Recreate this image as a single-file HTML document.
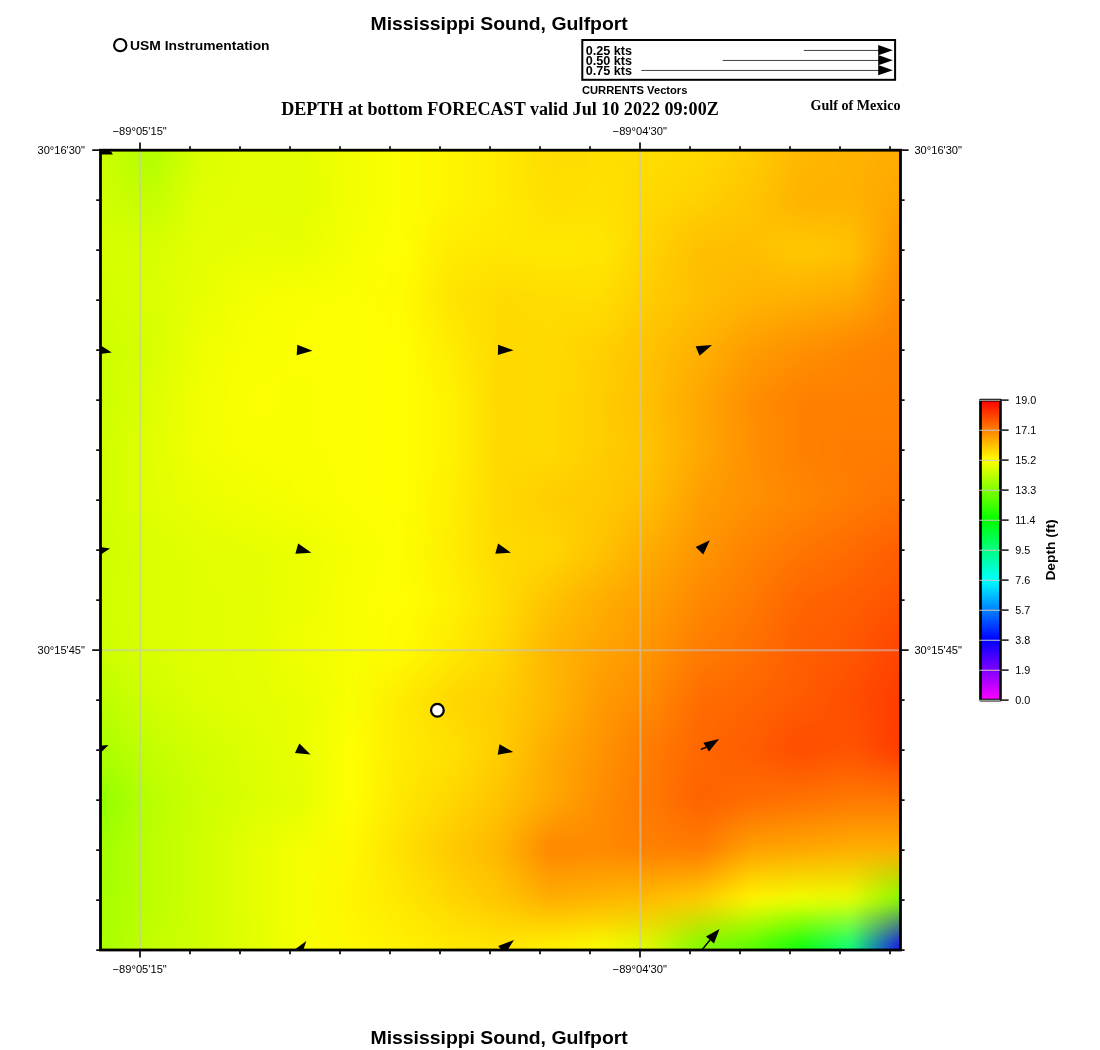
<!DOCTYPE html>
<html><head><meta charset="utf-8"><title>Mississippi Sound, Gulfport</title>
<style>
html,body{margin:0;padding:0;background:#fff;}
body{width:1100px;height:1050px;overflow:hidden;position:relative;font-family:"Liberation Sans",sans-serif;}
svg{position:absolute;left:0;top:0;}
text{font-family:"Liberation Sans",sans-serif;fill:#000;}
svg{opacity:0.9999;}
.b{font-weight:bold;}
.s{font-family:"Liberation Serif",serif;font-weight:bold;}
.n{font-weight:normal;}
</style></head><body>
<svg width="1100" height="1050" viewBox="0 0 1100 1050">
<defs>
<clipPath id="mc"><rect x="100.5" y="150.2" width="800" height="799.8"/></clipPath>
<filter id="bl" filterUnits="userSpaceOnUse" x="40" y="90" width="920" height="920" color-interpolation-filters="sRGB"><feGaussianBlur stdDeviation="5"/></filter>
<linearGradient id="cb" x1="0" y1="1" x2="0" y2="0">

<stop offset="0" stop-color="#ff00ff"/>
<stop offset="0.1" stop-color="#8000ff"/>
<stop offset="0.2" stop-color="#0000ff"/>
<stop offset="0.3" stop-color="#0080ff"/>
<stop offset="0.4" stop-color="#00ffff"/>
<stop offset="0.5" stop-color="#00ff80"/>
<stop offset="0.6" stop-color="#00ff00"/>
<stop offset="0.7" stop-color="#7fff00"/>
<stop offset="0.8" stop-color="#ffff00"/>
<stop offset="0.9" stop-color="#ff8000"/>
<stop offset="1" stop-color="#ff0000"/>
</linearGradient>
</defs>
<rect x="0" y="0" width="1100" height="1050" fill="#fff"/>
<g clip-path="url(#mc)"><g filter="url(#bl)">
<defs><linearGradient id="r0" gradientUnits="userSpaceOnUse" x1="100.5" y1="0" x2="900.5" y2="0"><stop offset="0" stop-color="#cdff00"/><stop offset="0.0625" stop-color="#b0ff00"/><stop offset="0.125" stop-color="#dbff00"/><stop offset="0.1875" stop-color="#e4ff00"/><stop offset="0.25" stop-color="#e4ff00"/><stop offset="0.3125" stop-color="#f2ff00"/><stop offset="0.375" stop-color="#fcff00"/><stop offset="0.4375" stop-color="#fff500"/><stop offset="0.5" stop-color="#ffeb00"/><stop offset="0.5625" stop-color="#ffdc00"/><stop offset="0.625" stop-color="#ffde00"/><stop offset="0.6875" stop-color="#ffdd00"/><stop offset="0.75" stop-color="#ffd900"/><stop offset="0.8125" stop-color="#ffcc00"/><stop offset="0.875" stop-color="#ffb800"/><stop offset="0.9375" stop-color="#ffb200"/><stop offset="1" stop-color="#ffad00"/></linearGradient>
<linearGradient id="r4" gradientUnits="userSpaceOnUse" x1="100.5" y1="0" x2="900.5" y2="0"><stop offset="0" stop-color="#ceff00"/><stop offset="0.0625" stop-color="#b5ff00"/><stop offset="0.125" stop-color="#dcff00"/><stop offset="0.1875" stop-color="#e4ff00"/><stop offset="0.25" stop-color="#e4ff00"/><stop offset="0.3125" stop-color="#f2ff00"/><stop offset="0.375" stop-color="#fcff00"/><stop offset="0.4375" stop-color="#fff500"/><stop offset="0.5" stop-color="#ffeb00"/><stop offset="0.5625" stop-color="#ffdc00"/><stop offset="0.625" stop-color="#ffde00"/><stop offset="0.6875" stop-color="#ffdc00"/><stop offset="0.75" stop-color="#ffd700"/><stop offset="0.8125" stop-color="#ffca00"/><stop offset="0.875" stop-color="#ffb700"/><stop offset="0.9375" stop-color="#ffb200"/><stop offset="1" stop-color="#ffab00"/></linearGradient>
<linearGradient id="r5" gradientUnits="userSpaceOnUse" x1="100.5" y1="0" x2="900.5" y2="0"><stop offset="0" stop-color="#ceff00"/><stop offset="0.0625" stop-color="#b9ff00"/><stop offset="0.125" stop-color="#ddff00"/><stop offset="0.1875" stop-color="#e4ff00"/><stop offset="0.25" stop-color="#e3ff00"/><stop offset="0.3125" stop-color="#f2ff00"/><stop offset="0.375" stop-color="#fcff00"/><stop offset="0.4375" stop-color="#fff500"/><stop offset="0.5" stop-color="#ffeb00"/><stop offset="0.5625" stop-color="#ffdd00"/><stop offset="0.625" stop-color="#ffdf00"/><stop offset="0.6875" stop-color="#ffdb00"/><stop offset="0.75" stop-color="#ffd500"/><stop offset="0.8125" stop-color="#ffc900"/><stop offset="0.875" stop-color="#ffb500"/><stop offset="0.9375" stop-color="#ffb200"/><stop offset="1" stop-color="#ffa900"/></linearGradient>
<linearGradient id="r6" gradientUnits="userSpaceOnUse" x1="100.5" y1="0" x2="900.5" y2="0"><stop offset="0" stop-color="#cfff00"/><stop offset="0.0625" stop-color="#bdff00"/><stop offset="0.125" stop-color="#dfff00"/><stop offset="0.1875" stop-color="#e4ff00"/><stop offset="0.25" stop-color="#e3ff00"/><stop offset="0.3125" stop-color="#f2ff00"/><stop offset="0.375" stop-color="#fcff00"/><stop offset="0.4375" stop-color="#fff500"/><stop offset="0.5" stop-color="#ffeb00"/><stop offset="0.5625" stop-color="#ffde00"/><stop offset="0.625" stop-color="#ffe000"/><stop offset="0.6875" stop-color="#ffda00"/><stop offset="0.75" stop-color="#ffd400"/><stop offset="0.8125" stop-color="#ffc700"/><stop offset="0.875" stop-color="#ffb400"/><stop offset="0.9375" stop-color="#ffb200"/><stop offset="1" stop-color="#ffa700"/></linearGradient>
<linearGradient id="r7" gradientUnits="userSpaceOnUse" x1="100.5" y1="0" x2="900.5" y2="0"><stop offset="0" stop-color="#d0ff00"/><stop offset="0.0625" stop-color="#c1ff00"/><stop offset="0.125" stop-color="#e0ff00"/><stop offset="0.1875" stop-color="#e4ff00"/><stop offset="0.25" stop-color="#e3ff00"/><stop offset="0.3125" stop-color="#f2ff00"/><stop offset="0.375" stop-color="#fcff00"/><stop offset="0.4375" stop-color="#fff500"/><stop offset="0.5" stop-color="#ffeb00"/><stop offset="0.5625" stop-color="#ffde00"/><stop offset="0.625" stop-color="#ffe000"/><stop offset="0.6875" stop-color="#ffd900"/><stop offset="0.75" stop-color="#ffd200"/><stop offset="0.8125" stop-color="#ffc500"/><stop offset="0.875" stop-color="#ffb300"/><stop offset="0.9375" stop-color="#ffb200"/><stop offset="1" stop-color="#ffa500"/></linearGradient>
<linearGradient id="r8" gradientUnits="userSpaceOnUse" x1="100.5" y1="0" x2="900.5" y2="0"><stop offset="0" stop-color="#d1ff00"/><stop offset="0.0625" stop-color="#c5ff00"/><stop offset="0.125" stop-color="#e1ff00"/><stop offset="0.1875" stop-color="#e4ff00"/><stop offset="0.25" stop-color="#e3ff00"/><stop offset="0.3125" stop-color="#f2ff00"/><stop offset="0.375" stop-color="#fcff00"/><stop offset="0.4375" stop-color="#fff400"/><stop offset="0.5" stop-color="#ffeb00"/><stop offset="0.5625" stop-color="#ffe000"/><stop offset="0.625" stop-color="#ffe100"/><stop offset="0.6875" stop-color="#ffd800"/><stop offset="0.75" stop-color="#ffcf00"/><stop offset="0.8125" stop-color="#ffc400"/><stop offset="0.875" stop-color="#ffb400"/><stop offset="0.9375" stop-color="#ffb400"/><stop offset="1" stop-color="#ffa300"/></linearGradient>
<linearGradient id="r9" gradientUnits="userSpaceOnUse" x1="100.5" y1="0" x2="900.5" y2="0"><stop offset="0" stop-color="#d2ff00"/><stop offset="0.0625" stop-color="#c9ff00"/><stop offset="0.125" stop-color="#e2ff00"/><stop offset="0.1875" stop-color="#e5ff00"/><stop offset="0.25" stop-color="#e4ff00"/><stop offset="0.3125" stop-color="#f3ff00"/><stop offset="0.375" stop-color="#fdff00"/><stop offset="0.4375" stop-color="#fff200"/><stop offset="0.5" stop-color="#ffea00"/><stop offset="0.5625" stop-color="#ffe200"/><stop offset="0.625" stop-color="#ffe300"/><stop offset="0.6875" stop-color="#ffd700"/><stop offset="0.75" stop-color="#ffcb00"/><stop offset="0.8125" stop-color="#ffc300"/><stop offset="0.875" stop-color="#ffb900"/><stop offset="0.9375" stop-color="#ffb700"/><stop offset="1" stop-color="#ff9f00"/></linearGradient>
<linearGradient id="r10" gradientUnits="userSpaceOnUse" x1="100.5" y1="0" x2="900.5" y2="0"><stop offset="0" stop-color="#d3ff00"/><stop offset="0.0625" stop-color="#cdff00"/><stop offset="0.125" stop-color="#e2ff00"/><stop offset="0.1875" stop-color="#e6ff00"/><stop offset="0.25" stop-color="#e5ff00"/><stop offset="0.3125" stop-color="#f3ff00"/><stop offset="0.375" stop-color="#fdff00"/><stop offset="0.4375" stop-color="#fff000"/><stop offset="0.5" stop-color="#ffe900"/><stop offset="0.5625" stop-color="#ffe400"/><stop offset="0.625" stop-color="#ffe400"/><stop offset="0.6875" stop-color="#ffd500"/><stop offset="0.75" stop-color="#ffc700"/><stop offset="0.8125" stop-color="#ffc100"/><stop offset="0.875" stop-color="#ffbe00"/><stop offset="0.9375" stop-color="#ffba00"/><stop offset="1" stop-color="#ff9c00"/></linearGradient>
<linearGradient id="r11" gradientUnits="userSpaceOnUse" x1="100.5" y1="0" x2="900.5" y2="0"><stop offset="0" stop-color="#d5ff00"/><stop offset="0.0625" stop-color="#d1ff00"/><stop offset="0.125" stop-color="#e3ff00"/><stop offset="0.1875" stop-color="#e7ff00"/><stop offset="0.25" stop-color="#e6ff00"/><stop offset="0.3125" stop-color="#f4ff00"/><stop offset="0.375" stop-color="#feff00"/><stop offset="0.4375" stop-color="#ffee00"/><stop offset="0.5" stop-color="#ffe900"/><stop offset="0.5625" stop-color="#ffe600"/><stop offset="0.625" stop-color="#ffe600"/><stop offset="0.6875" stop-color="#ffd400"/><stop offset="0.75" stop-color="#ffc400"/><stop offset="0.8125" stop-color="#ffc000"/><stop offset="0.875" stop-color="#ffc200"/><stop offset="0.9375" stop-color="#ffbe00"/><stop offset="1" stop-color="#ff9900"/></linearGradient>
<linearGradient id="r12" gradientUnits="userSpaceOnUse" x1="100.5" y1="0" x2="900.5" y2="0"><stop offset="0" stop-color="#d6ff00"/><stop offset="0.0625" stop-color="#d5ff00"/><stop offset="0.125" stop-color="#e4ff00"/><stop offset="0.1875" stop-color="#e7ff00"/><stop offset="0.25" stop-color="#e7ff00"/><stop offset="0.3125" stop-color="#f5ff00"/><stop offset="0.375" stop-color="#ffff00"/><stop offset="0.4375" stop-color="#ffec00"/><stop offset="0.5" stop-color="#ffe800"/><stop offset="0.5625" stop-color="#ffe800"/><stop offset="0.625" stop-color="#ffe700"/><stop offset="0.6875" stop-color="#ffd300"/><stop offset="0.75" stop-color="#ffc000"/><stop offset="0.8125" stop-color="#ffbf00"/><stop offset="0.875" stop-color="#ffc700"/><stop offset="0.9375" stop-color="#ffc100"/><stop offset="1" stop-color="#ff9500"/></linearGradient>
<linearGradient id="r13" gradientUnits="userSpaceOnUse" x1="100.5" y1="0" x2="900.5" y2="0"><stop offset="0" stop-color="#d6ff00"/><stop offset="0.0625" stop-color="#d7ff00"/><stop offset="0.125" stop-color="#e4ff00"/><stop offset="0.1875" stop-color="#e9ff00"/><stop offset="0.25" stop-color="#e9ff00"/><stop offset="0.3125" stop-color="#f6ff00"/><stop offset="0.375" stop-color="#ffff00"/><stop offset="0.4375" stop-color="#ffea00"/><stop offset="0.5" stop-color="#ffe600"/><stop offset="0.5625" stop-color="#ffe800"/><stop offset="0.625" stop-color="#ffe700"/><stop offset="0.6875" stop-color="#ffd100"/><stop offset="0.75" stop-color="#ffbe00"/><stop offset="0.8125" stop-color="#ffbd00"/><stop offset="0.875" stop-color="#ffc700"/><stop offset="0.9375" stop-color="#ffc000"/><stop offset="1" stop-color="#ff9300"/></linearGradient>
<linearGradient id="r14" gradientUnits="userSpaceOnUse" x1="100.5" y1="0" x2="900.5" y2="0"><stop offset="0" stop-color="#d6ff00"/><stop offset="0.0625" stop-color="#d8ff00"/><stop offset="0.125" stop-color="#e5ff00"/><stop offset="0.1875" stop-color="#ecff00"/><stop offset="0.25" stop-color="#edff00"/><stop offset="0.3125" stop-color="#f7ff00"/><stop offset="0.375" stop-color="#fffe00"/><stop offset="0.4375" stop-color="#ffe900"/><stop offset="0.5" stop-color="#ffe300"/><stop offset="0.5625" stop-color="#ffe500"/><stop offset="0.625" stop-color="#ffe400"/><stop offset="0.6875" stop-color="#ffd000"/><stop offset="0.75" stop-color="#ffbe00"/><stop offset="0.8125" stop-color="#ffbb00"/><stop offset="0.875" stop-color="#ffc100"/><stop offset="0.9375" stop-color="#ffbb00"/><stop offset="1" stop-color="#ff9100"/></linearGradient>
<linearGradient id="r15" gradientUnits="userSpaceOnUse" x1="100.5" y1="0" x2="900.5" y2="0"><stop offset="0" stop-color="#d5ff00"/><stop offset="0.0625" stop-color="#d8ff00"/><stop offset="0.125" stop-color="#e6ff00"/><stop offset="0.1875" stop-color="#eeff00"/><stop offset="0.25" stop-color="#f1ff00"/><stop offset="0.3125" stop-color="#f8ff00"/><stop offset="0.375" stop-color="#fffd00"/><stop offset="0.4375" stop-color="#ffe800"/><stop offset="0.5" stop-color="#ffe100"/><stop offset="0.5625" stop-color="#ffe200"/><stop offset="0.625" stop-color="#ffe200"/><stop offset="0.6875" stop-color="#ffcf00"/><stop offset="0.75" stop-color="#ffbe00"/><stop offset="0.8125" stop-color="#ffb900"/><stop offset="0.875" stop-color="#ffbc00"/><stop offset="0.9375" stop-color="#ffb500"/><stop offset="1" stop-color="#ff8f00"/></linearGradient>
<linearGradient id="r16" gradientUnits="userSpaceOnUse" x1="100.5" y1="0" x2="900.5" y2="0"><stop offset="0" stop-color="#d4ff00"/><stop offset="0.0625" stop-color="#d9ff00"/><stop offset="0.125" stop-color="#e7ff00"/><stop offset="0.1875" stop-color="#f1ff00"/><stop offset="0.25" stop-color="#f4ff00"/><stop offset="0.3125" stop-color="#faff00"/><stop offset="0.375" stop-color="#fffd00"/><stop offset="0.4375" stop-color="#ffe600"/><stop offset="0.5" stop-color="#ffde00"/><stop offset="0.5625" stop-color="#ffdf00"/><stop offset="0.625" stop-color="#ffe000"/><stop offset="0.6875" stop-color="#ffcd00"/><stop offset="0.75" stop-color="#ffbe00"/><stop offset="0.8125" stop-color="#ffb700"/><stop offset="0.875" stop-color="#ffb700"/><stop offset="0.9375" stop-color="#ffb000"/><stop offset="1" stop-color="#ff8d00"/></linearGradient>
<linearGradient id="r17" gradientUnits="userSpaceOnUse" x1="100.5" y1="0" x2="900.5" y2="0"><stop offset="0" stop-color="#d4ff00"/><stop offset="0.0625" stop-color="#daff00"/><stop offset="0.125" stop-color="#e7ff00"/><stop offset="0.1875" stop-color="#f4ff00"/><stop offset="0.25" stop-color="#f8ff00"/><stop offset="0.3125" stop-color="#fbff00"/><stop offset="0.375" stop-color="#fffc00"/><stop offset="0.4375" stop-color="#ffe500"/><stop offset="0.5" stop-color="#ffdb00"/><stop offset="0.5625" stop-color="#ffdd00"/><stop offset="0.625" stop-color="#ffde00"/><stop offset="0.6875" stop-color="#ffcc00"/><stop offset="0.75" stop-color="#ffbe00"/><stop offset="0.8125" stop-color="#ffb500"/><stop offset="0.875" stop-color="#ffb100"/><stop offset="0.9375" stop-color="#ffaa00"/><stop offset="1" stop-color="#ff8b00"/></linearGradient>
<linearGradient id="r18" gradientUnits="userSpaceOnUse" x1="100.5" y1="0" x2="900.5" y2="0"><stop offset="0" stop-color="#d3ff00"/><stop offset="0.0625" stop-color="#daff00"/><stop offset="0.125" stop-color="#e8ff00"/><stop offset="0.1875" stop-color="#f5ff00"/><stop offset="0.25" stop-color="#faff00"/><stop offset="0.3125" stop-color="#fcff00"/><stop offset="0.375" stop-color="#fffc00"/><stop offset="0.4375" stop-color="#ffe500"/><stop offset="0.5" stop-color="#ffda00"/><stop offset="0.5625" stop-color="#ffdb00"/><stop offset="0.625" stop-color="#ffdc00"/><stop offset="0.6875" stop-color="#ffca00"/><stop offset="0.75" stop-color="#ffbd00"/><stop offset="0.8125" stop-color="#ffb100"/><stop offset="0.875" stop-color="#ffab00"/><stop offset="0.9375" stop-color="#ffa400"/><stop offset="1" stop-color="#ff8900"/></linearGradient>
<linearGradient id="r19" gradientUnits="userSpaceOnUse" x1="100.5" y1="0" x2="900.5" y2="0"><stop offset="0" stop-color="#d1ff00"/><stop offset="0.0625" stop-color="#d9ff00"/><stop offset="0.125" stop-color="#eaff00"/><stop offset="0.1875" stop-color="#f6ff00"/><stop offset="0.25" stop-color="#faff00"/><stop offset="0.3125" stop-color="#fcff00"/><stop offset="0.375" stop-color="#fffd00"/><stop offset="0.4375" stop-color="#ffe700"/><stop offset="0.5" stop-color="#ffda00"/><stop offset="0.5625" stop-color="#ffdb00"/><stop offset="0.625" stop-color="#ffd900"/><stop offset="0.6875" stop-color="#ffc800"/><stop offset="0.75" stop-color="#ffba00"/><stop offset="0.8125" stop-color="#ffad00"/><stop offset="0.875" stop-color="#ffa500"/><stop offset="0.9375" stop-color="#ff9e00"/><stop offset="1" stop-color="#ff8700"/></linearGradient>
<linearGradient id="r20" gradientUnits="userSpaceOnUse" x1="100.5" y1="0" x2="900.5" y2="0"><stop offset="0" stop-color="#d0ff00"/><stop offset="0.0625" stop-color="#d8ff00"/><stop offset="0.125" stop-color="#ebff00"/><stop offset="0.1875" stop-color="#f7ff00"/><stop offset="0.25" stop-color="#fbff00"/><stop offset="0.3125" stop-color="#fcff00"/><stop offset="0.375" stop-color="#fffd00"/><stop offset="0.4375" stop-color="#ffe900"/><stop offset="0.5" stop-color="#ffd900"/><stop offset="0.5625" stop-color="#ffdb00"/><stop offset="0.625" stop-color="#ffd700"/><stop offset="0.6875" stop-color="#ffc600"/><stop offset="0.75" stop-color="#ffb700"/><stop offset="0.8125" stop-color="#ffa800"/><stop offset="0.875" stop-color="#ff9f00"/><stop offset="0.9375" stop-color="#ff9700"/><stop offset="1" stop-color="#ff8500"/></linearGradient>
<linearGradient id="r21" gradientUnits="userSpaceOnUse" x1="100.5" y1="0" x2="900.5" y2="0"><stop offset="0" stop-color="#cfff00"/><stop offset="0.0625" stop-color="#d8ff00"/><stop offset="0.125" stop-color="#ecff00"/><stop offset="0.1875" stop-color="#f7ff00"/><stop offset="0.25" stop-color="#fbff00"/><stop offset="0.3125" stop-color="#fcff00"/><stop offset="0.375" stop-color="#fffe00"/><stop offset="0.4375" stop-color="#ffea00"/><stop offset="0.5" stop-color="#ffd900"/><stop offset="0.5625" stop-color="#ffda00"/><stop offset="0.625" stop-color="#ffd400"/><stop offset="0.6875" stop-color="#ffc400"/><stop offset="0.75" stop-color="#ffb500"/><stop offset="0.8125" stop-color="#ffa300"/><stop offset="0.875" stop-color="#ff9900"/><stop offset="0.9375" stop-color="#ff9000"/><stop offset="1" stop-color="#ff8300"/></linearGradient>
<linearGradient id="r22" gradientUnits="userSpaceOnUse" x1="100.5" y1="0" x2="900.5" y2="0"><stop offset="0" stop-color="#cdff00"/><stop offset="0.0625" stop-color="#d7ff00"/><stop offset="0.125" stop-color="#eeff00"/><stop offset="0.1875" stop-color="#f8ff00"/><stop offset="0.25" stop-color="#fbff00"/><stop offset="0.3125" stop-color="#fcff00"/><stop offset="0.375" stop-color="#ffff00"/><stop offset="0.4375" stop-color="#ffec00"/><stop offset="0.5" stop-color="#ffd900"/><stop offset="0.5625" stop-color="#ffda00"/><stop offset="0.625" stop-color="#ffd100"/><stop offset="0.6875" stop-color="#ffc200"/><stop offset="0.75" stop-color="#ffb200"/><stop offset="0.8125" stop-color="#ff9f00"/><stop offset="0.875" stop-color="#ff9300"/><stop offset="0.9375" stop-color="#ff8a00"/><stop offset="1" stop-color="#ff8100"/></linearGradient>
<linearGradient id="r23" gradientUnits="userSpaceOnUse" x1="100.5" y1="0" x2="900.5" y2="0"><stop offset="0" stop-color="#cdff00"/><stop offset="0.0625" stop-color="#d7ff00"/><stop offset="0.125" stop-color="#efff00"/><stop offset="0.1875" stop-color="#f9ff00"/><stop offset="0.25" stop-color="#fbff00"/><stop offset="0.3125" stop-color="#fcff00"/><stop offset="0.375" stop-color="#ffff00"/><stop offset="0.4375" stop-color="#ffed00"/><stop offset="0.5" stop-color="#ffd900"/><stop offset="0.5625" stop-color="#ffda00"/><stop offset="0.625" stop-color="#ffd000"/><stop offset="0.6875" stop-color="#ffc100"/><stop offset="0.75" stop-color="#ffaf00"/><stop offset="0.8125" stop-color="#ff9b00"/><stop offset="0.875" stop-color="#ff8f00"/><stop offset="0.9375" stop-color="#ff8600"/><stop offset="1" stop-color="#ff8000"/></linearGradient>
<linearGradient id="r24" gradientUnits="userSpaceOnUse" x1="100.5" y1="0" x2="900.5" y2="0"><stop offset="0" stop-color="#cdff00"/><stop offset="0.0625" stop-color="#d9ff00"/><stop offset="0.125" stop-color="#efff00"/><stop offset="0.1875" stop-color="#f9ff00"/><stop offset="0.25" stop-color="#fbff00"/><stop offset="0.3125" stop-color="#fcff00"/><stop offset="0.375" stop-color="#ffff00"/><stop offset="0.4375" stop-color="#ffee00"/><stop offset="0.5" stop-color="#ffd900"/><stop offset="0.5625" stop-color="#ffda00"/><stop offset="0.625" stop-color="#ffcf00"/><stop offset="0.6875" stop-color="#ffc000"/><stop offset="0.75" stop-color="#ffad00"/><stop offset="0.8125" stop-color="#ff9800"/><stop offset="0.875" stop-color="#ff8b00"/><stop offset="0.9375" stop-color="#ff8400"/><stop offset="1" stop-color="#ff8000"/></linearGradient>
<linearGradient id="r25" gradientUnits="userSpaceOnUse" x1="100.5" y1="0" x2="900.5" y2="0"><stop offset="0" stop-color="#cdff00"/><stop offset="0.0625" stop-color="#daff00"/><stop offset="0.125" stop-color="#f0ff00"/><stop offset="0.1875" stop-color="#faff00"/><stop offset="0.25" stop-color="#fbff00"/><stop offset="0.3125" stop-color="#fcff00"/><stop offset="0.375" stop-color="#ffff00"/><stop offset="0.4375" stop-color="#ffef00"/><stop offset="0.5" stop-color="#ffd900"/><stop offset="0.5625" stop-color="#ffda00"/><stop offset="0.625" stop-color="#ffce00"/><stop offset="0.6875" stop-color="#ffc000"/><stop offset="0.75" stop-color="#ffab00"/><stop offset="0.8125" stop-color="#ff9600"/><stop offset="0.875" stop-color="#ff8800"/><stop offset="0.9375" stop-color="#ff8300"/><stop offset="1" stop-color="#ff8000"/></linearGradient>
<linearGradient id="r26" gradientUnits="userSpaceOnUse" x1="100.5" y1="0" x2="900.5" y2="0"><stop offset="0" stop-color="#cdff00"/><stop offset="0.0625" stop-color="#dbff00"/><stop offset="0.125" stop-color="#f1ff00"/><stop offset="0.1875" stop-color="#fbff00"/><stop offset="0.25" stop-color="#faff00"/><stop offset="0.3125" stop-color="#fcff00"/><stop offset="0.375" stop-color="#ffff00"/><stop offset="0.4375" stop-color="#fff000"/><stop offset="0.5" stop-color="#ffd900"/><stop offset="0.5625" stop-color="#ffda00"/><stop offset="0.625" stop-color="#ffce00"/><stop offset="0.6875" stop-color="#ffbf00"/><stop offset="0.75" stop-color="#ffa900"/><stop offset="0.8125" stop-color="#ff9300"/><stop offset="0.875" stop-color="#ff8500"/><stop offset="0.9375" stop-color="#ff8200"/><stop offset="1" stop-color="#ff8000"/></linearGradient>
<linearGradient id="r27" gradientUnits="userSpaceOnUse" x1="100.5" y1="0" x2="900.5" y2="0"><stop offset="0" stop-color="#cdff00"/><stop offset="0.0625" stop-color="#ddff00"/><stop offset="0.125" stop-color="#f1ff00"/><stop offset="0.1875" stop-color="#fbff00"/><stop offset="0.25" stop-color="#faff00"/><stop offset="0.3125" stop-color="#fcff00"/><stop offset="0.375" stop-color="#ffff00"/><stop offset="0.4375" stop-color="#fff100"/><stop offset="0.5" stop-color="#ffd900"/><stop offset="0.5625" stop-color="#ffda00"/><stop offset="0.625" stop-color="#ffcd00"/><stop offset="0.6875" stop-color="#ffbe00"/><stop offset="0.75" stop-color="#ffa700"/><stop offset="0.8125" stop-color="#ff9000"/><stop offset="0.875" stop-color="#ff8100"/><stop offset="0.9375" stop-color="#ff8000"/><stop offset="1" stop-color="#ff8000"/></linearGradient>
<linearGradient id="r28" gradientUnits="userSpaceOnUse" x1="100.5" y1="0" x2="900.5" y2="0"><stop offset="0" stop-color="#cdff00"/><stop offset="0.0625" stop-color="#deff00"/><stop offset="0.125" stop-color="#f2ff00"/><stop offset="0.1875" stop-color="#fbff00"/><stop offset="0.25" stop-color="#faff00"/><stop offset="0.3125" stop-color="#fcff00"/><stop offset="0.375" stop-color="#ffff00"/><stop offset="0.4375" stop-color="#fff200"/><stop offset="0.5" stop-color="#ffd900"/><stop offset="0.5625" stop-color="#ffda00"/><stop offset="0.625" stop-color="#ffcd00"/><stop offset="0.6875" stop-color="#ffbe00"/><stop offset="0.75" stop-color="#ffa700"/><stop offset="0.8125" stop-color="#ff8f00"/><stop offset="0.875" stop-color="#ff8000"/><stop offset="0.9375" stop-color="#ff7f00"/><stop offset="1" stop-color="#ff7f00"/></linearGradient>
<linearGradient id="r29" gradientUnits="userSpaceOnUse" x1="100.5" y1="0" x2="900.5" y2="0"><stop offset="0" stop-color="#ceff00"/><stop offset="0.0625" stop-color="#deff00"/><stop offset="0.125" stop-color="#f2ff00"/><stop offset="0.1875" stop-color="#fbff00"/><stop offset="0.25" stop-color="#faff00"/><stop offset="0.3125" stop-color="#fcff00"/><stop offset="0.375" stop-color="#ffff00"/><stop offset="0.4375" stop-color="#fff200"/><stop offset="0.5" stop-color="#ffd900"/><stop offset="0.5625" stop-color="#ffda00"/><stop offset="0.625" stop-color="#ffcd00"/><stop offset="0.6875" stop-color="#ffbf00"/><stop offset="0.75" stop-color="#ffa700"/><stop offset="0.8125" stop-color="#ff8f00"/><stop offset="0.875" stop-color="#ff8000"/><stop offset="0.9375" stop-color="#ff7e00"/><stop offset="1" stop-color="#ff7e00"/></linearGradient>
<linearGradient id="r30" gradientUnits="userSpaceOnUse" x1="100.5" y1="0" x2="900.5" y2="0"><stop offset="0" stop-color="#ceff00"/><stop offset="0.0625" stop-color="#dfff00"/><stop offset="0.125" stop-color="#f2ff00"/><stop offset="0.1875" stop-color="#faff00"/><stop offset="0.25" stop-color="#faff00"/><stop offset="0.3125" stop-color="#fcff00"/><stop offset="0.375" stop-color="#ffff00"/><stop offset="0.4375" stop-color="#fff200"/><stop offset="0.5" stop-color="#ffd900"/><stop offset="0.5625" stop-color="#ffda00"/><stop offset="0.625" stop-color="#ffcd00"/><stop offset="0.6875" stop-color="#ffc000"/><stop offset="0.75" stop-color="#ffa700"/><stop offset="0.8125" stop-color="#ff9000"/><stop offset="0.875" stop-color="#ff8000"/><stop offset="0.9375" stop-color="#ff7e00"/><stop offset="1" stop-color="#ff7e00"/></linearGradient>
<linearGradient id="r31" gradientUnits="userSpaceOnUse" x1="100.5" y1="0" x2="900.5" y2="0"><stop offset="0" stop-color="#cfff00"/><stop offset="0.0625" stop-color="#e0ff00"/><stop offset="0.125" stop-color="#f2ff00"/><stop offset="0.1875" stop-color="#f9ff00"/><stop offset="0.25" stop-color="#faff00"/><stop offset="0.3125" stop-color="#fcff00"/><stop offset="0.375" stop-color="#ffff00"/><stop offset="0.4375" stop-color="#fff200"/><stop offset="0.5" stop-color="#ffd900"/><stop offset="0.5625" stop-color="#ffda00"/><stop offset="0.625" stop-color="#ffcd00"/><stop offset="0.6875" stop-color="#ffc100"/><stop offset="0.75" stop-color="#ffa700"/><stop offset="0.8125" stop-color="#ff9000"/><stop offset="0.875" stop-color="#ff8000"/><stop offset="0.9375" stop-color="#ff7d00"/><stop offset="1" stop-color="#ff7d00"/></linearGradient>
<linearGradient id="r32" gradientUnits="userSpaceOnUse" x1="100.5" y1="0" x2="900.5" y2="0"><stop offset="0" stop-color="#d0ff00"/><stop offset="0.0625" stop-color="#e0ff00"/><stop offset="0.125" stop-color="#f2ff00"/><stop offset="0.1875" stop-color="#f9ff00"/><stop offset="0.25" stop-color="#faff00"/><stop offset="0.3125" stop-color="#fcff00"/><stop offset="0.375" stop-color="#ffff00"/><stop offset="0.4375" stop-color="#fff200"/><stop offset="0.5" stop-color="#ffd900"/><stop offset="0.5625" stop-color="#ffda00"/><stop offset="0.625" stop-color="#ffcd00"/><stop offset="0.6875" stop-color="#ffc200"/><stop offset="0.75" stop-color="#ffa800"/><stop offset="0.8125" stop-color="#ff9000"/><stop offset="0.875" stop-color="#ff8000"/><stop offset="0.9375" stop-color="#ff7c00"/><stop offset="1" stop-color="#ff7c00"/></linearGradient>
<linearGradient id="r33" gradientUnits="userSpaceOnUse" x1="100.5" y1="0" x2="900.5" y2="0"><stop offset="0" stop-color="#d0ff00"/><stop offset="0.0625" stop-color="#e1ff00"/><stop offset="0.125" stop-color="#f1ff00"/><stop offset="0.1875" stop-color="#f8ff00"/><stop offset="0.25" stop-color="#f9ff00"/><stop offset="0.3125" stop-color="#fcff00"/><stop offset="0.375" stop-color="#ffff00"/><stop offset="0.4375" stop-color="#fff100"/><stop offset="0.5" stop-color="#ffd900"/><stop offset="0.5625" stop-color="#ffd900"/><stop offset="0.625" stop-color="#ffcc00"/><stop offset="0.6875" stop-color="#ffc200"/><stop offset="0.75" stop-color="#ffa700"/><stop offset="0.8125" stop-color="#ff9000"/><stop offset="0.875" stop-color="#ff8000"/><stop offset="0.9375" stop-color="#ff7c00"/><stop offset="1" stop-color="#ff7b00"/></linearGradient>
<linearGradient id="r34" gradientUnits="userSpaceOnUse" x1="100.5" y1="0" x2="900.5" y2="0"><stop offset="0" stop-color="#d0ff00"/><stop offset="0.0625" stop-color="#e1ff00"/><stop offset="0.125" stop-color="#f0ff00"/><stop offset="0.1875" stop-color="#f6ff00"/><stop offset="0.25" stop-color="#f9ff00"/><stop offset="0.3125" stop-color="#fcff00"/><stop offset="0.375" stop-color="#ffff00"/><stop offset="0.4375" stop-color="#fff100"/><stop offset="0.5" stop-color="#ffd900"/><stop offset="0.5625" stop-color="#ffd600"/><stop offset="0.625" stop-color="#ffcc00"/><stop offset="0.6875" stop-color="#ffc100"/><stop offset="0.75" stop-color="#ffa500"/><stop offset="0.8125" stop-color="#ff9000"/><stop offset="0.875" stop-color="#ff8200"/><stop offset="0.9375" stop-color="#ff7c00"/><stop offset="1" stop-color="#ff7900"/></linearGradient>
<linearGradient id="r35" gradientUnits="userSpaceOnUse" x1="100.5" y1="0" x2="900.5" y2="0"><stop offset="0" stop-color="#d0ff00"/><stop offset="0.0625" stop-color="#e1ff00"/><stop offset="0.125" stop-color="#eeff00"/><stop offset="0.1875" stop-color="#f5ff00"/><stop offset="0.25" stop-color="#f8ff00"/><stop offset="0.3125" stop-color="#fcff00"/><stop offset="0.375" stop-color="#ffff00"/><stop offset="0.4375" stop-color="#fff000"/><stop offset="0.5" stop-color="#ffd900"/><stop offset="0.5625" stop-color="#ffd300"/><stop offset="0.625" stop-color="#ffcb00"/><stop offset="0.6875" stop-color="#ffbf00"/><stop offset="0.75" stop-color="#ffa300"/><stop offset="0.8125" stop-color="#ff9000"/><stop offset="0.875" stop-color="#ff8300"/><stop offset="0.9375" stop-color="#ff7c00"/><stop offset="1" stop-color="#ff7700"/></linearGradient>
<linearGradient id="r36" gradientUnits="userSpaceOnUse" x1="100.5" y1="0" x2="900.5" y2="0"><stop offset="0" stop-color="#d0ff00"/><stop offset="0.0625" stop-color="#e1ff00"/><stop offset="0.125" stop-color="#edff00"/><stop offset="0.1875" stop-color="#f4ff00"/><stop offset="0.25" stop-color="#f7ff00"/><stop offset="0.3125" stop-color="#fcff00"/><stop offset="0.375" stop-color="#ffff00"/><stop offset="0.4375" stop-color="#ffef00"/><stop offset="0.5" stop-color="#ffd900"/><stop offset="0.5625" stop-color="#ffd100"/><stop offset="0.625" stop-color="#ffca00"/><stop offset="0.6875" stop-color="#ffbe00"/><stop offset="0.75" stop-color="#ffa100"/><stop offset="0.8125" stop-color="#ff9000"/><stop offset="0.875" stop-color="#ff8400"/><stop offset="0.9375" stop-color="#ff7c00"/><stop offset="1" stop-color="#ff7500"/></linearGradient>
<linearGradient id="r37" gradientUnits="userSpaceOnUse" x1="100.5" y1="0" x2="900.5" y2="0"><stop offset="0" stop-color="#d0ff00"/><stop offset="0.0625" stop-color="#e1ff00"/><stop offset="0.125" stop-color="#ecff00"/><stop offset="0.1875" stop-color="#f2ff00"/><stop offset="0.25" stop-color="#f7ff00"/><stop offset="0.3125" stop-color="#fcff00"/><stop offset="0.375" stop-color="#ffff00"/><stop offset="0.4375" stop-color="#ffef00"/><stop offset="0.5" stop-color="#ffd900"/><stop offset="0.5625" stop-color="#ffce00"/><stop offset="0.625" stop-color="#ffca00"/><stop offset="0.6875" stop-color="#ffbd00"/><stop offset="0.75" stop-color="#ff9f00"/><stop offset="0.8125" stop-color="#ff9000"/><stop offset="0.875" stop-color="#ff8600"/><stop offset="0.9375" stop-color="#ff7c00"/><stop offset="1" stop-color="#ff7300"/></linearGradient>
<linearGradient id="r38" gradientUnits="userSpaceOnUse" x1="100.5" y1="0" x2="900.5" y2="0"><stop offset="0" stop-color="#d0ff00"/><stop offset="0.0625" stop-color="#e0ff00"/><stop offset="0.125" stop-color="#eaff00"/><stop offset="0.1875" stop-color="#f0ff00"/><stop offset="0.25" stop-color="#f5ff00"/><stop offset="0.3125" stop-color="#fbff00"/><stop offset="0.375" stop-color="#ffff00"/><stop offset="0.4375" stop-color="#ffee00"/><stop offset="0.5" stop-color="#ffd900"/><stop offset="0.5625" stop-color="#ffce00"/><stop offset="0.625" stop-color="#ffc900"/><stop offset="0.6875" stop-color="#ffba00"/><stop offset="0.75" stop-color="#ff9d00"/><stop offset="0.8125" stop-color="#ff8f00"/><stop offset="0.875" stop-color="#ff8500"/><stop offset="0.9375" stop-color="#ff7a00"/><stop offset="1" stop-color="#ff7000"/></linearGradient>
<linearGradient id="r39" gradientUnits="userSpaceOnUse" x1="100.5" y1="0" x2="900.5" y2="0"><stop offset="0" stop-color="#cfff00"/><stop offset="0.0625" stop-color="#dfff00"/><stop offset="0.125" stop-color="#e8ff00"/><stop offset="0.1875" stop-color="#eeff00"/><stop offset="0.25" stop-color="#f3ff00"/><stop offset="0.3125" stop-color="#faff00"/><stop offset="0.375" stop-color="#feff00"/><stop offset="0.4375" stop-color="#ffee00"/><stop offset="0.5" stop-color="#ffd900"/><stop offset="0.5625" stop-color="#ffd000"/><stop offset="0.625" stop-color="#ffc700"/><stop offset="0.6875" stop-color="#ffb700"/><stop offset="0.75" stop-color="#ff9b00"/><stop offset="0.8125" stop-color="#ff8c00"/><stop offset="0.875" stop-color="#ff8100"/><stop offset="0.9375" stop-color="#ff7700"/><stop offset="1" stop-color="#ff6c00"/></linearGradient>
<linearGradient id="r40" gradientUnits="userSpaceOnUse" x1="100.5" y1="0" x2="900.5" y2="0"><stop offset="0" stop-color="#ceff00"/><stop offset="0.0625" stop-color="#ddff00"/><stop offset="0.125" stop-color="#e7ff00"/><stop offset="0.1875" stop-color="#ecff00"/><stop offset="0.25" stop-color="#f1ff00"/><stop offset="0.3125" stop-color="#f9ff00"/><stop offset="0.375" stop-color="#feff00"/><stop offset="0.4375" stop-color="#ffee00"/><stop offset="0.5" stop-color="#ffd900"/><stop offset="0.5625" stop-color="#ffd200"/><stop offset="0.625" stop-color="#ffc600"/><stop offset="0.6875" stop-color="#ffb400"/><stop offset="0.75" stop-color="#ff9a00"/><stop offset="0.8125" stop-color="#ff8a00"/><stop offset="0.875" stop-color="#ff7e00"/><stop offset="0.9375" stop-color="#ff7400"/><stop offset="1" stop-color="#ff6800"/></linearGradient>
<linearGradient id="r41" gradientUnits="userSpaceOnUse" x1="100.5" y1="0" x2="900.5" y2="0"><stop offset="0" stop-color="#ceff00"/><stop offset="0.0625" stop-color="#dcff00"/><stop offset="0.125" stop-color="#e5ff00"/><stop offset="0.1875" stop-color="#e9ff00"/><stop offset="0.25" stop-color="#eeff00"/><stop offset="0.3125" stop-color="#f8ff00"/><stop offset="0.375" stop-color="#feff00"/><stop offset="0.4375" stop-color="#ffed00"/><stop offset="0.5" stop-color="#ffda00"/><stop offset="0.5625" stop-color="#ffd400"/><stop offset="0.625" stop-color="#ffc500"/><stop offset="0.6875" stop-color="#ffb000"/><stop offset="0.75" stop-color="#ff9800"/><stop offset="0.8125" stop-color="#ff8700"/><stop offset="0.875" stop-color="#ff7a00"/><stop offset="0.9375" stop-color="#ff7000"/><stop offset="1" stop-color="#ff6400"/></linearGradient>
<linearGradient id="r42" gradientUnits="userSpaceOnUse" x1="100.5" y1="0" x2="900.5" y2="0"><stop offset="0" stop-color="#cdff00"/><stop offset="0.0625" stop-color="#dbff00"/><stop offset="0.125" stop-color="#e4ff00"/><stop offset="0.1875" stop-color="#e7ff00"/><stop offset="0.25" stop-color="#ecff00"/><stop offset="0.3125" stop-color="#f7ff00"/><stop offset="0.375" stop-color="#fdff00"/><stop offset="0.4375" stop-color="#ffed00"/><stop offset="0.5" stop-color="#ffda00"/><stop offset="0.5625" stop-color="#ffd600"/><stop offset="0.625" stop-color="#ffc300"/><stop offset="0.6875" stop-color="#ffad00"/><stop offset="0.75" stop-color="#ff9600"/><stop offset="0.8125" stop-color="#ff8400"/><stop offset="0.875" stop-color="#ff7700"/><stop offset="0.9375" stop-color="#ff6d00"/><stop offset="1" stop-color="#ff6000"/></linearGradient>
<linearGradient id="r43" gradientUnits="userSpaceOnUse" x1="100.5" y1="0" x2="900.5" y2="0"><stop offset="0" stop-color="#cdff00"/><stop offset="0.0625" stop-color="#daff00"/><stop offset="0.125" stop-color="#e3ff00"/><stop offset="0.1875" stop-color="#e5ff00"/><stop offset="0.25" stop-color="#ebff00"/><stop offset="0.3125" stop-color="#f6ff00"/><stop offset="0.375" stop-color="#fdff00"/><stop offset="0.4375" stop-color="#ffed00"/><stop offset="0.5" stop-color="#ffda00"/><stop offset="0.5625" stop-color="#ffd500"/><stop offset="0.625" stop-color="#ffc100"/><stop offset="0.6875" stop-color="#ffaa00"/><stop offset="0.75" stop-color="#ff9400"/><stop offset="0.8125" stop-color="#ff8200"/><stop offset="0.875" stop-color="#ff7400"/><stop offset="0.9375" stop-color="#ff6a00"/><stop offset="1" stop-color="#ff5d00"/></linearGradient>
<linearGradient id="r44" gradientUnits="userSpaceOnUse" x1="100.5" y1="0" x2="900.5" y2="0"><stop offset="0" stop-color="#ceff00"/><stop offset="0.0625" stop-color="#daff00"/><stop offset="0.125" stop-color="#e2ff00"/><stop offset="0.1875" stop-color="#e5ff00"/><stop offset="0.25" stop-color="#ebff00"/><stop offset="0.3125" stop-color="#f7ff00"/><stop offset="0.375" stop-color="#feff00"/><stop offset="0.4375" stop-color="#ffee00"/><stop offset="0.5" stop-color="#ffdb00"/><stop offset="0.5625" stop-color="#ffd100"/><stop offset="0.625" stop-color="#ffbd00"/><stop offset="0.6875" stop-color="#ffa700"/><stop offset="0.75" stop-color="#ff9200"/><stop offset="0.8125" stop-color="#ff8000"/><stop offset="0.875" stop-color="#ff7000"/><stop offset="0.9375" stop-color="#ff6700"/><stop offset="1" stop-color="#ff5b00"/></linearGradient>
<linearGradient id="r45" gradientUnits="userSpaceOnUse" x1="100.5" y1="0" x2="900.5" y2="0"><stop offset="0" stop-color="#ceff00"/><stop offset="0.0625" stop-color="#daff00"/><stop offset="0.125" stop-color="#e2ff00"/><stop offset="0.1875" stop-color="#e5ff00"/><stop offset="0.25" stop-color="#ecff00"/><stop offset="0.3125" stop-color="#f7ff00"/><stop offset="0.375" stop-color="#feff00"/><stop offset="0.4375" stop-color="#ffef00"/><stop offset="0.5" stop-color="#ffdc00"/><stop offset="0.5625" stop-color="#ffcd00"/><stop offset="0.625" stop-color="#ffb900"/><stop offset="0.6875" stop-color="#ffa400"/><stop offset="0.75" stop-color="#ff8f00"/><stop offset="0.8125" stop-color="#ff7e00"/><stop offset="0.875" stop-color="#ff6d00"/><stop offset="0.9375" stop-color="#ff6500"/><stop offset="1" stop-color="#ff5900"/></linearGradient>
<linearGradient id="r46" gradientUnits="userSpaceOnUse" x1="100.5" y1="0" x2="900.5" y2="0"><stop offset="0" stop-color="#cfff00"/><stop offset="0.0625" stop-color="#daff00"/><stop offset="0.125" stop-color="#e1ff00"/><stop offset="0.1875" stop-color="#e5ff00"/><stop offset="0.25" stop-color="#ecff00"/><stop offset="0.3125" stop-color="#f8ff00"/><stop offset="0.375" stop-color="#feff00"/><stop offset="0.4375" stop-color="#fff000"/><stop offset="0.5" stop-color="#ffdc00"/><stop offset="0.5625" stop-color="#ffc900"/><stop offset="0.625" stop-color="#ffb500"/><stop offset="0.6875" stop-color="#ffa200"/><stop offset="0.75" stop-color="#ff8c00"/><stop offset="0.8125" stop-color="#ff7c00"/><stop offset="0.875" stop-color="#ff6a00"/><stop offset="0.9375" stop-color="#ff6200"/><stop offset="1" stop-color="#ff5700"/></linearGradient>
<linearGradient id="r47" gradientUnits="userSpaceOnUse" x1="100.5" y1="0" x2="900.5" y2="0"><stop offset="0" stop-color="#d0ff00"/><stop offset="0.0625" stop-color="#daff00"/><stop offset="0.125" stop-color="#e1ff00"/><stop offset="0.1875" stop-color="#e4ff00"/><stop offset="0.25" stop-color="#ecff00"/><stop offset="0.3125" stop-color="#f8ff00"/><stop offset="0.375" stop-color="#ffff00"/><stop offset="0.4375" stop-color="#fff100"/><stop offset="0.5" stop-color="#ffdd00"/><stop offset="0.5625" stop-color="#ffc500"/><stop offset="0.625" stop-color="#ffb000"/><stop offset="0.6875" stop-color="#ff9f00"/><stop offset="0.75" stop-color="#ff8a00"/><stop offset="0.8125" stop-color="#ff7a00"/><stop offset="0.875" stop-color="#ff6600"/><stop offset="0.9375" stop-color="#ff5f00"/><stop offset="1" stop-color="#ff5500"/></linearGradient>
<linearGradient id="r48" gradientUnits="userSpaceOnUse" x1="100.5" y1="0" x2="900.5" y2="0"><stop offset="0" stop-color="#d0ff00"/><stop offset="0.0625" stop-color="#daff00"/><stop offset="0.125" stop-color="#e1ff00"/><stop offset="0.1875" stop-color="#e4ff00"/><stop offset="0.25" stop-color="#edff00"/><stop offset="0.3125" stop-color="#f8ff00"/><stop offset="0.375" stop-color="#ffff00"/><stop offset="0.4375" stop-color="#fff100"/><stop offset="0.5" stop-color="#ffdd00"/><stop offset="0.5625" stop-color="#ffc100"/><stop offset="0.625" stop-color="#ffad00"/><stop offset="0.6875" stop-color="#ff9d00"/><stop offset="0.75" stop-color="#ff8700"/><stop offset="0.8125" stop-color="#ff7800"/><stop offset="0.875" stop-color="#ff6400"/><stop offset="0.9375" stop-color="#ff5d00"/><stop offset="1" stop-color="#ff5200"/></linearGradient>
<linearGradient id="r49" gradientUnits="userSpaceOnUse" x1="100.5" y1="0" x2="900.5" y2="0"><stop offset="0" stop-color="#cfff00"/><stop offset="0.0625" stop-color="#daff00"/><stop offset="0.125" stop-color="#e1ff00"/><stop offset="0.1875" stop-color="#e4ff00"/><stop offset="0.25" stop-color="#edff00"/><stop offset="0.3125" stop-color="#f8ff00"/><stop offset="0.375" stop-color="#fffe00"/><stop offset="0.4375" stop-color="#fff000"/><stop offset="0.5" stop-color="#ffdb00"/><stop offset="0.5625" stop-color="#ffbf00"/><stop offset="0.625" stop-color="#ffab00"/><stop offset="0.6875" stop-color="#ff9b00"/><stop offset="0.75" stop-color="#ff8500"/><stop offset="0.8125" stop-color="#ff7600"/><stop offset="0.875" stop-color="#ff6300"/><stop offset="0.9375" stop-color="#ff5c00"/><stop offset="1" stop-color="#ff4f00"/></linearGradient>
<linearGradient id="r50" gradientUnits="userSpaceOnUse" x1="100.5" y1="0" x2="900.5" y2="0"><stop offset="0" stop-color="#ceff00"/><stop offset="0.0625" stop-color="#daff00"/><stop offset="0.125" stop-color="#e1ff00"/><stop offset="0.1875" stop-color="#e4ff00"/><stop offset="0.25" stop-color="#eeff00"/><stop offset="0.3125" stop-color="#f8ff00"/><stop offset="0.375" stop-color="#fffd00"/><stop offset="0.4375" stop-color="#ffee00"/><stop offset="0.5" stop-color="#ffda00"/><stop offset="0.5625" stop-color="#ffbc00"/><stop offset="0.625" stop-color="#ffa900"/><stop offset="0.6875" stop-color="#ff9900"/><stop offset="0.75" stop-color="#ff8200"/><stop offset="0.8125" stop-color="#ff7400"/><stop offset="0.875" stop-color="#ff6100"/><stop offset="0.9375" stop-color="#ff5b00"/><stop offset="1" stop-color="#ff4b00"/></linearGradient>
<linearGradient id="r51" gradientUnits="userSpaceOnUse" x1="100.5" y1="0" x2="900.5" y2="0"><stop offset="0" stop-color="#ceff00"/><stop offset="0.0625" stop-color="#daff00"/><stop offset="0.125" stop-color="#e1ff00"/><stop offset="0.1875" stop-color="#e4ff00"/><stop offset="0.25" stop-color="#efff00"/><stop offset="0.3125" stop-color="#f8ff00"/><stop offset="0.375" stop-color="#fffd00"/><stop offset="0.4375" stop-color="#ffed00"/><stop offset="0.5" stop-color="#ffd900"/><stop offset="0.5625" stop-color="#ffb900"/><stop offset="0.625" stop-color="#ffa700"/><stop offset="0.6875" stop-color="#ff9700"/><stop offset="0.75" stop-color="#ff8000"/><stop offset="0.8125" stop-color="#ff7200"/><stop offset="0.875" stop-color="#ff6000"/><stop offset="0.9375" stop-color="#ff5900"/><stop offset="1" stop-color="#ff4800"/></linearGradient>
<linearGradient id="r52" gradientUnits="userSpaceOnUse" x1="100.5" y1="0" x2="900.5" y2="0"><stop offset="0" stop-color="#cdff00"/><stop offset="0.0625" stop-color="#daff00"/><stop offset="0.125" stop-color="#e1ff00"/><stop offset="0.1875" stop-color="#e4ff00"/><stop offset="0.25" stop-color="#efff00"/><stop offset="0.3125" stop-color="#f8ff00"/><stop offset="0.375" stop-color="#fffc00"/><stop offset="0.4375" stop-color="#ffec00"/><stop offset="0.5" stop-color="#ffd700"/><stop offset="0.5625" stop-color="#ffb700"/><stop offset="0.625" stop-color="#ffa500"/><stop offset="0.6875" stop-color="#ff9500"/><stop offset="0.75" stop-color="#ff7d00"/><stop offset="0.8125" stop-color="#ff7000"/><stop offset="0.875" stop-color="#ff5f00"/><stop offset="0.9375" stop-color="#ff5800"/><stop offset="1" stop-color="#ff4500"/></linearGradient>
<linearGradient id="r53" gradientUnits="userSpaceOnUse" x1="100.5" y1="0" x2="900.5" y2="0"><stop offset="0" stop-color="#cbff00"/><stop offset="0.0625" stop-color="#d9ff00"/><stop offset="0.125" stop-color="#e0ff00"/><stop offset="0.1875" stop-color="#e4ff00"/><stop offset="0.25" stop-color="#efff00"/><stop offset="0.3125" stop-color="#f8ff00"/><stop offset="0.375" stop-color="#fffa00"/><stop offset="0.4375" stop-color="#ffe900"/><stop offset="0.5" stop-color="#ffd600"/><stop offset="0.5625" stop-color="#ffb600"/><stop offset="0.625" stop-color="#ffa300"/><stop offset="0.6875" stop-color="#ff9300"/><stop offset="0.75" stop-color="#ff7a00"/><stop offset="0.8125" stop-color="#ff6e00"/><stop offset="0.875" stop-color="#ff5e00"/><stop offset="0.9375" stop-color="#ff5600"/><stop offset="1" stop-color="#ff4200"/></linearGradient>
<linearGradient id="r54" gradientUnits="userSpaceOnUse" x1="100.5" y1="0" x2="900.5" y2="0"><stop offset="0" stop-color="#c8ff00"/><stop offset="0.0625" stop-color="#d7ff00"/><stop offset="0.125" stop-color="#e0ff00"/><stop offset="0.1875" stop-color="#e4ff00"/><stop offset="0.25" stop-color="#eeff00"/><stop offset="0.3125" stop-color="#f8ff00"/><stop offset="0.375" stop-color="#fff700"/><stop offset="0.4375" stop-color="#ffe500"/><stop offset="0.5" stop-color="#ffd400"/><stop offset="0.5625" stop-color="#ffb600"/><stop offset="0.625" stop-color="#ffa100"/><stop offset="0.6875" stop-color="#ff9100"/><stop offset="0.75" stop-color="#ff7700"/><stop offset="0.8125" stop-color="#ff6c00"/><stop offset="0.875" stop-color="#ff5d00"/><stop offset="0.9375" stop-color="#ff5400"/><stop offset="1" stop-color="#ff4100"/></linearGradient>
<linearGradient id="r55" gradientUnits="userSpaceOnUse" x1="100.5" y1="0" x2="900.5" y2="0"><stop offset="0" stop-color="#c4ff00"/><stop offset="0.0625" stop-color="#d5ff00"/><stop offset="0.125" stop-color="#dfff00"/><stop offset="0.1875" stop-color="#e4ff00"/><stop offset="0.25" stop-color="#ecff00"/><stop offset="0.3125" stop-color="#f8ff00"/><stop offset="0.375" stop-color="#fff300"/><stop offset="0.4375" stop-color="#ffe100"/><stop offset="0.5" stop-color="#ffd200"/><stop offset="0.5625" stop-color="#ffb700"/><stop offset="0.625" stop-color="#ff9f00"/><stop offset="0.6875" stop-color="#ff8f00"/><stop offset="0.75" stop-color="#ff7400"/><stop offset="0.8125" stop-color="#ff6a00"/><stop offset="0.875" stop-color="#ff5c00"/><stop offset="0.9375" stop-color="#ff5200"/><stop offset="1" stop-color="#ff4000"/></linearGradient>
<linearGradient id="r56" gradientUnits="userSpaceOnUse" x1="100.5" y1="0" x2="900.5" y2="0"><stop offset="0" stop-color="#c1ff00"/><stop offset="0.0625" stop-color="#d3ff00"/><stop offset="0.125" stop-color="#deff00"/><stop offset="0.1875" stop-color="#e4ff00"/><stop offset="0.25" stop-color="#ebff00"/><stop offset="0.3125" stop-color="#f8ff00"/><stop offset="0.375" stop-color="#fff000"/><stop offset="0.4375" stop-color="#ffdd00"/><stop offset="0.5" stop-color="#ffd000"/><stop offset="0.5625" stop-color="#ffb800"/><stop offset="0.625" stop-color="#ff9d00"/><stop offset="0.6875" stop-color="#ff8d00"/><stop offset="0.75" stop-color="#ff7000"/><stop offset="0.8125" stop-color="#ff6800"/><stop offset="0.875" stop-color="#ff5c00"/><stop offset="0.9375" stop-color="#ff5000"/><stop offset="1" stop-color="#ff3e00"/></linearGradient>
<linearGradient id="r57" gradientUnits="userSpaceOnUse" x1="100.5" y1="0" x2="900.5" y2="0"><stop offset="0" stop-color="#beff00"/><stop offset="0.0625" stop-color="#d1ff00"/><stop offset="0.125" stop-color="#deff00"/><stop offset="0.1875" stop-color="#e4ff00"/><stop offset="0.25" stop-color="#eaff00"/><stop offset="0.3125" stop-color="#f8ff00"/><stop offset="0.375" stop-color="#ffed00"/><stop offset="0.4375" stop-color="#ffd900"/><stop offset="0.5" stop-color="#ffce00"/><stop offset="0.5625" stop-color="#ffb800"/><stop offset="0.625" stop-color="#ff9b00"/><stop offset="0.6875" stop-color="#ff8b00"/><stop offset="0.75" stop-color="#ff6d00"/><stop offset="0.8125" stop-color="#ff6600"/><stop offset="0.875" stop-color="#ff5b00"/><stop offset="0.9375" stop-color="#ff4e00"/><stop offset="1" stop-color="#ff3d00"/></linearGradient>
<linearGradient id="r58" gradientUnits="userSpaceOnUse" x1="100.5" y1="0" x2="900.5" y2="0"><stop offset="0" stop-color="#baff00"/><stop offset="0.0625" stop-color="#cfff00"/><stop offset="0.125" stop-color="#dcff00"/><stop offset="0.1875" stop-color="#e3ff00"/><stop offset="0.25" stop-color="#e9ff00"/><stop offset="0.3125" stop-color="#f9ff00"/><stop offset="0.375" stop-color="#ffeb00"/><stop offset="0.4375" stop-color="#ffd800"/><stop offset="0.5" stop-color="#ffcd00"/><stop offset="0.5625" stop-color="#ffb700"/><stop offset="0.625" stop-color="#ff9a00"/><stop offset="0.6875" stop-color="#ff8800"/><stop offset="0.75" stop-color="#ff6b00"/><stop offset="0.8125" stop-color="#ff6400"/><stop offset="0.875" stop-color="#ff5900"/><stop offset="0.9375" stop-color="#ff4e00"/><stop offset="1" stop-color="#ff3c00"/></linearGradient>
<linearGradient id="r59" gradientUnits="userSpaceOnUse" x1="100.5" y1="0" x2="900.5" y2="0"><stop offset="0" stop-color="#b7ff00"/><stop offset="0.0625" stop-color="#ccff00"/><stop offset="0.125" stop-color="#daff00"/><stop offset="0.1875" stop-color="#e2ff00"/><stop offset="0.25" stop-color="#e9ff00"/><stop offset="0.3125" stop-color="#faff00"/><stop offset="0.375" stop-color="#ffeb00"/><stop offset="0.4375" stop-color="#ffda00"/><stop offset="0.5" stop-color="#ffcd00"/><stop offset="0.5625" stop-color="#ffb500"/><stop offset="0.625" stop-color="#ff9800"/><stop offset="0.6875" stop-color="#ff8500"/><stop offset="0.75" stop-color="#ff6a00"/><stop offset="0.8125" stop-color="#ff6200"/><stop offset="0.875" stop-color="#ff5600"/><stop offset="0.9375" stop-color="#ff4f00"/><stop offset="1" stop-color="#ff3c00"/></linearGradient>
<linearGradient id="r60" gradientUnits="userSpaceOnUse" x1="100.5" y1="0" x2="900.5" y2="0"><stop offset="0" stop-color="#b4ff00"/><stop offset="0.0625" stop-color="#c9ff00"/><stop offset="0.125" stop-color="#d7ff00"/><stop offset="0.1875" stop-color="#e1ff00"/><stop offset="0.25" stop-color="#e9ff00"/><stop offset="0.3125" stop-color="#fcff00"/><stop offset="0.375" stop-color="#ffeb00"/><stop offset="0.4375" stop-color="#ffdc00"/><stop offset="0.5" stop-color="#ffcd00"/><stop offset="0.5625" stop-color="#ffb200"/><stop offset="0.625" stop-color="#ff9700"/><stop offset="0.6875" stop-color="#ff8200"/><stop offset="0.75" stop-color="#ff6900"/><stop offset="0.8125" stop-color="#ff6100"/><stop offset="0.875" stop-color="#ff5300"/><stop offset="0.9375" stop-color="#ff5100"/><stop offset="1" stop-color="#ff3c00"/></linearGradient>
<linearGradient id="r61" gradientUnits="userSpaceOnUse" x1="100.5" y1="0" x2="900.5" y2="0"><stop offset="0" stop-color="#b0ff00"/><stop offset="0.0625" stop-color="#c7ff00"/><stop offset="0.125" stop-color="#d5ff00"/><stop offset="0.1875" stop-color="#dfff00"/><stop offset="0.25" stop-color="#e9ff00"/><stop offset="0.3125" stop-color="#fdff00"/><stop offset="0.375" stop-color="#ffeb00"/><stop offset="0.4375" stop-color="#ffde00"/><stop offset="0.5" stop-color="#ffcd00"/><stop offset="0.5625" stop-color="#ffaf00"/><stop offset="0.625" stop-color="#ff9600"/><stop offset="0.6875" stop-color="#ff7f00"/><stop offset="0.75" stop-color="#ff6800"/><stop offset="0.8125" stop-color="#ff5f00"/><stop offset="0.875" stop-color="#ff5000"/><stop offset="0.9375" stop-color="#ff5200"/><stop offset="1" stop-color="#ff3c00"/></linearGradient>
<linearGradient id="r62" gradientUnits="userSpaceOnUse" x1="100.5" y1="0" x2="900.5" y2="0"><stop offset="0" stop-color="#adff00"/><stop offset="0.0625" stop-color="#c4ff00"/><stop offset="0.125" stop-color="#d3ff00"/><stop offset="0.1875" stop-color="#deff00"/><stop offset="0.25" stop-color="#e9ff00"/><stop offset="0.3125" stop-color="#feff00"/><stop offset="0.375" stop-color="#ffeb00"/><stop offset="0.4375" stop-color="#ffe000"/><stop offset="0.5" stop-color="#ffcd00"/><stop offset="0.5625" stop-color="#ffac00"/><stop offset="0.625" stop-color="#ff9400"/><stop offset="0.6875" stop-color="#ff7c00"/><stop offset="0.75" stop-color="#ff6700"/><stop offset="0.8125" stop-color="#ff5d00"/><stop offset="0.875" stop-color="#ff4d00"/><stop offset="0.9375" stop-color="#ff5300"/><stop offset="1" stop-color="#ff3c00"/></linearGradient>
<linearGradient id="r63" gradientUnits="userSpaceOnUse" x1="100.5" y1="0" x2="900.5" y2="0"><stop offset="0" stop-color="#a8ff00"/><stop offset="0.0625" stop-color="#c2ff00"/><stop offset="0.125" stop-color="#d1ff00"/><stop offset="0.1875" stop-color="#ddff00"/><stop offset="0.25" stop-color="#e8ff00"/><stop offset="0.3125" stop-color="#ffff00"/><stop offset="0.375" stop-color="#ffeb00"/><stop offset="0.4375" stop-color="#ffe000"/><stop offset="0.5" stop-color="#ffcc00"/><stop offset="0.5625" stop-color="#ffab00"/><stop offset="0.625" stop-color="#ff9300"/><stop offset="0.6875" stop-color="#ff7b00"/><stop offset="0.75" stop-color="#ff6600"/><stop offset="0.8125" stop-color="#ff5e00"/><stop offset="0.875" stop-color="#ff5000"/><stop offset="0.9375" stop-color="#ff5800"/><stop offset="1" stop-color="#ff4200"/></linearGradient>
<linearGradient id="r64" gradientUnits="userSpaceOnUse" x1="100.5" y1="0" x2="900.5" y2="0"><stop offset="0" stop-color="#a3ff00"/><stop offset="0.0625" stop-color="#c0ff00"/><stop offset="0.125" stop-color="#d0ff00"/><stop offset="0.1875" stop-color="#dcff00"/><stop offset="0.25" stop-color="#e7ff00"/><stop offset="0.3125" stop-color="#ffff00"/><stop offset="0.375" stop-color="#ffea00"/><stop offset="0.4375" stop-color="#ffde00"/><stop offset="0.5" stop-color="#ffca00"/><stop offset="0.5625" stop-color="#ffaa00"/><stop offset="0.625" stop-color="#ff9200"/><stop offset="0.6875" stop-color="#ff7a00"/><stop offset="0.75" stop-color="#ff6500"/><stop offset="0.8125" stop-color="#ff6100"/><stop offset="0.875" stop-color="#ff5700"/><stop offset="0.9375" stop-color="#ff5f00"/><stop offset="1" stop-color="#ff4f00"/></linearGradient>
<linearGradient id="r65" gradientUnits="userSpaceOnUse" x1="100.5" y1="0" x2="900.5" y2="0"><stop offset="0" stop-color="#9eff00"/><stop offset="0.0625" stop-color="#beff00"/><stop offset="0.125" stop-color="#cfff00"/><stop offset="0.1875" stop-color="#dcff00"/><stop offset="0.25" stop-color="#e7ff00"/><stop offset="0.3125" stop-color="#ffff00"/><stop offset="0.375" stop-color="#ffe900"/><stop offset="0.4375" stop-color="#ffdc00"/><stop offset="0.5" stop-color="#ffc800"/><stop offset="0.5625" stop-color="#ffa900"/><stop offset="0.625" stop-color="#ff9000"/><stop offset="0.6875" stop-color="#ff7a00"/><stop offset="0.75" stop-color="#ff6400"/><stop offset="0.8125" stop-color="#ff6400"/><stop offset="0.875" stop-color="#ff5f00"/><stop offset="0.9375" stop-color="#ff6600"/><stop offset="1" stop-color="#ff5b00"/></linearGradient>
<linearGradient id="r66" gradientUnits="userSpaceOnUse" x1="100.5" y1="0" x2="900.5" y2="0"><stop offset="0" stop-color="#98ff00"/><stop offset="0.0625" stop-color="#bcff00"/><stop offset="0.125" stop-color="#ceff00"/><stop offset="0.1875" stop-color="#dbff00"/><stop offset="0.25" stop-color="#e6ff00"/><stop offset="0.3125" stop-color="#ffff00"/><stop offset="0.375" stop-color="#ffe900"/><stop offset="0.4375" stop-color="#ffda00"/><stop offset="0.5" stop-color="#ffc600"/><stop offset="0.5625" stop-color="#ffa900"/><stop offset="0.625" stop-color="#ff8f00"/><stop offset="0.6875" stop-color="#ff7900"/><stop offset="0.75" stop-color="#ff6300"/><stop offset="0.8125" stop-color="#ff6700"/><stop offset="0.875" stop-color="#ff6700"/><stop offset="0.9375" stop-color="#ff6e00"/><stop offset="1" stop-color="#ff6700"/></linearGradient>
<linearGradient id="r67" gradientUnits="userSpaceOnUse" x1="100.5" y1="0" x2="900.5" y2="0"><stop offset="0" stop-color="#93ff00"/><stop offset="0.0625" stop-color="#baff00"/><stop offset="0.125" stop-color="#cdff00"/><stop offset="0.1875" stop-color="#daff00"/><stop offset="0.25" stop-color="#e5ff00"/><stop offset="0.3125" stop-color="#ffff00"/><stop offset="0.375" stop-color="#ffe800"/><stop offset="0.4375" stop-color="#ffd800"/><stop offset="0.5" stop-color="#ffc400"/><stop offset="0.5625" stop-color="#ffa800"/><stop offset="0.625" stop-color="#ff8e00"/><stop offset="0.6875" stop-color="#ff7900"/><stop offset="0.75" stop-color="#ff6200"/><stop offset="0.8125" stop-color="#ff6a00"/><stop offset="0.875" stop-color="#ff6e00"/><stop offset="0.9375" stop-color="#ff7500"/><stop offset="1" stop-color="#ff7300"/></linearGradient>
<linearGradient id="r68" gradientUnits="userSpaceOnUse" x1="100.5" y1="0" x2="900.5" y2="0"><stop offset="0" stop-color="#92ff00"/><stop offset="0.0625" stop-color="#b9ff00"/><stop offset="0.125" stop-color="#cdff00"/><stop offset="0.1875" stop-color="#dbff00"/><stop offset="0.25" stop-color="#e6ff00"/><stop offset="0.3125" stop-color="#fffe00"/><stop offset="0.375" stop-color="#ffe700"/><stop offset="0.4375" stop-color="#ffd500"/><stop offset="0.5" stop-color="#ffc100"/><stop offset="0.5625" stop-color="#ffa400"/><stop offset="0.625" stop-color="#ff8d00"/><stop offset="0.6875" stop-color="#ff7900"/><stop offset="0.75" stop-color="#ff6400"/><stop offset="0.8125" stop-color="#ff7100"/><stop offset="0.875" stop-color="#ff7700"/><stop offset="0.9375" stop-color="#ff7e00"/><stop offset="1" stop-color="#ff7e00"/></linearGradient>
<linearGradient id="r69" gradientUnits="userSpaceOnUse" x1="100.5" y1="0" x2="900.5" y2="0"><stop offset="0" stop-color="#95ff00"/><stop offset="0.0625" stop-color="#baff00"/><stop offset="0.125" stop-color="#ceff00"/><stop offset="0.1875" stop-color="#ddff00"/><stop offset="0.25" stop-color="#e9ff00"/><stop offset="0.3125" stop-color="#fffd00"/><stop offset="0.375" stop-color="#ffe600"/><stop offset="0.4375" stop-color="#ffd300"/><stop offset="0.5" stop-color="#ffbf00"/><stop offset="0.5625" stop-color="#ff9e00"/><stop offset="0.625" stop-color="#ff8c00"/><stop offset="0.6875" stop-color="#ff7b00"/><stop offset="0.75" stop-color="#ff6900"/><stop offset="0.8125" stop-color="#ff7b00"/><stop offset="0.875" stop-color="#ff8200"/><stop offset="0.9375" stop-color="#ff8900"/><stop offset="1" stop-color="#ff8900"/></linearGradient>
<linearGradient id="r70" gradientUnits="userSpaceOnUse" x1="100.5" y1="0" x2="900.5" y2="0"><stop offset="0" stop-color="#99ff00"/><stop offset="0.0625" stop-color="#baff00"/><stop offset="0.125" stop-color="#ceff00"/><stop offset="0.1875" stop-color="#dfff00"/><stop offset="0.25" stop-color="#edff00"/><stop offset="0.3125" stop-color="#fffc00"/><stop offset="0.375" stop-color="#ffe400"/><stop offset="0.4375" stop-color="#ffd000"/><stop offset="0.5" stop-color="#ffbc00"/><stop offset="0.5625" stop-color="#ff9700"/><stop offset="0.625" stop-color="#ff8b00"/><stop offset="0.6875" stop-color="#ff7c00"/><stop offset="0.75" stop-color="#ff6f00"/><stop offset="0.8125" stop-color="#ff8600"/><stop offset="0.875" stop-color="#ff8d00"/><stop offset="0.9375" stop-color="#ff9400"/><stop offset="1" stop-color="#ff9400"/></linearGradient>
<linearGradient id="r71" gradientUnits="userSpaceOnUse" x1="100.5" y1="0" x2="900.5" y2="0"><stop offset="0" stop-color="#9cff00"/><stop offset="0.0625" stop-color="#bbff00"/><stop offset="0.125" stop-color="#cfff00"/><stop offset="0.1875" stop-color="#e1ff00"/><stop offset="0.25" stop-color="#f0ff00"/><stop offset="0.3125" stop-color="#fffa00"/><stop offset="0.375" stop-color="#ffe300"/><stop offset="0.4375" stop-color="#ffcd00"/><stop offset="0.5" stop-color="#ffb900"/><stop offset="0.5625" stop-color="#ff9000"/><stop offset="0.625" stop-color="#ff8b00"/><stop offset="0.6875" stop-color="#ff7d00"/><stop offset="0.75" stop-color="#ff7400"/><stop offset="0.8125" stop-color="#ff9100"/><stop offset="0.875" stop-color="#ff9800"/><stop offset="0.9375" stop-color="#ff9e00"/><stop offset="1" stop-color="#ff9e00"/></linearGradient>
<linearGradient id="r72" gradientUnits="userSpaceOnUse" x1="100.5" y1="0" x2="900.5" y2="0"><stop offset="0" stop-color="#9fff00"/><stop offset="0.0625" stop-color="#bcff00"/><stop offset="0.125" stop-color="#d0ff00"/><stop offset="0.1875" stop-color="#e3ff00"/><stop offset="0.25" stop-color="#f3ff00"/><stop offset="0.3125" stop-color="#fff900"/><stop offset="0.375" stop-color="#ffe100"/><stop offset="0.4375" stop-color="#ffcb00"/><stop offset="0.5" stop-color="#ffb700"/><stop offset="0.5625" stop-color="#ff8a00"/><stop offset="0.625" stop-color="#ff8a00"/><stop offset="0.6875" stop-color="#ff7f00"/><stop offset="0.75" stop-color="#ff7900"/><stop offset="0.8125" stop-color="#ff9c00"/><stop offset="0.875" stop-color="#ffa200"/><stop offset="0.9375" stop-color="#ffa900"/><stop offset="1" stop-color="#ffa900"/></linearGradient>
<linearGradient id="r73" gradientUnits="userSpaceOnUse" x1="100.5" y1="0" x2="900.5" y2="0"><stop offset="0" stop-color="#a1ff00"/><stop offset="0.0625" stop-color="#bcff00"/><stop offset="0.125" stop-color="#d0ff00"/><stop offset="0.1875" stop-color="#e4ff00"/><stop offset="0.25" stop-color="#f5ff00"/><stop offset="0.3125" stop-color="#fff800"/><stop offset="0.375" stop-color="#ffe100"/><stop offset="0.4375" stop-color="#ffcb00"/><stop offset="0.5" stop-color="#ffb700"/><stop offset="0.5625" stop-color="#ff8a00"/><stop offset="0.625" stop-color="#ff8e00"/><stop offset="0.6875" stop-color="#ff8600"/><stop offset="0.75" stop-color="#ff8400"/><stop offset="0.8125" stop-color="#ffa900"/><stop offset="0.875" stop-color="#feb000"/><stop offset="0.9375" stop-color="#fdb700"/><stop offset="1" stop-color="#f3b700"/></linearGradient>
<linearGradient id="r74" gradientUnits="userSpaceOnUse" x1="100.5" y1="0" x2="900.5" y2="0"><stop offset="0" stop-color="#a2ff00"/><stop offset="0.0625" stop-color="#bcff00"/><stop offset="0.125" stop-color="#d0ff00"/><stop offset="0.1875" stop-color="#e4ff00"/><stop offset="0.25" stop-color="#f5ff00"/><stop offset="0.3125" stop-color="#fff700"/><stop offset="0.375" stop-color="#ffe300"/><stop offset="0.4375" stop-color="#ffcd00"/><stop offset="0.5" stop-color="#ffba00"/><stop offset="0.5625" stop-color="#ff9200"/><stop offset="0.625" stop-color="#ff9700"/><stop offset="0.6875" stop-color="#ff9200"/><stop offset="0.75" stop-color="#ff9400"/><stop offset="0.8125" stop-color="#ffba00"/><stop offset="0.875" stop-color="#fbc200"/><stop offset="0.9375" stop-color="#f8c700"/><stop offset="1" stop-color="#dbc700"/></linearGradient>
<linearGradient id="r75" gradientUnits="userSpaceOnUse" x1="100.5" y1="0" x2="900.5" y2="0"><stop offset="0" stop-color="#a3ff00"/><stop offset="0.0625" stop-color="#bcff00"/><stop offset="0.125" stop-color="#d0ff00"/><stop offset="0.1875" stop-color="#e4ff00"/><stop offset="0.25" stop-color="#f6ff00"/><stop offset="0.3125" stop-color="#fff700"/><stop offset="0.375" stop-color="#ffe400"/><stop offset="0.4375" stop-color="#ffd000"/><stop offset="0.5" stop-color="#ffbe00"/><stop offset="0.5625" stop-color="#ff9a00"/><stop offset="0.625" stop-color="#ff9f00"/><stop offset="0.6875" stop-color="#ff9e00"/><stop offset="0.75" stop-color="#ffa400"/><stop offset="0.8125" stop-color="#ffcb00"/><stop offset="0.875" stop-color="#f8d300"/><stop offset="0.9375" stop-color="#f3d700"/><stop offset="1" stop-color="#c3d700"/></linearGradient>
<linearGradient id="r76" gradientUnits="userSpaceOnUse" x1="100.5" y1="0" x2="900.5" y2="0"><stop offset="0" stop-color="#a3ff00"/><stop offset="0.0625" stop-color="#bcff00"/><stop offset="0.125" stop-color="#d0ff00"/><stop offset="0.1875" stop-color="#e4ff00"/><stop offset="0.25" stop-color="#f6ff00"/><stop offset="0.3125" stop-color="#fff600"/><stop offset="0.375" stop-color="#ffe600"/><stop offset="0.4375" stop-color="#ffd300"/><stop offset="0.5" stop-color="#ffc100"/><stop offset="0.5625" stop-color="#ffa200"/><stop offset="0.625" stop-color="#ffa800"/><stop offset="0.6875" stop-color="#ffaa00"/><stop offset="0.75" stop-color="#ffb500"/><stop offset="0.8125" stop-color="#ffdc00"/><stop offset="0.875" stop-color="#f6e500"/><stop offset="0.9375" stop-color="#efe700"/><stop offset="1" stop-color="#aae700"/></linearGradient>
<linearGradient id="r77" gradientUnits="userSpaceOnUse" x1="100.5" y1="0" x2="900.5" y2="0"><stop offset="0" stop-color="#a4ff00"/><stop offset="0.0625" stop-color="#bcff00"/><stop offset="0.125" stop-color="#d0ff00"/><stop offset="0.1875" stop-color="#e4ff00"/><stop offset="0.25" stop-color="#f6ff00"/><stop offset="0.3125" stop-color="#fff500"/><stop offset="0.375" stop-color="#ffe700"/><stop offset="0.4375" stop-color="#ffd500"/><stop offset="0.5" stop-color="#ffc400"/><stop offset="0.5625" stop-color="#ffaa00"/><stop offset="0.625" stop-color="#ffb100"/><stop offset="0.6875" stop-color="#ffb600"/><stop offset="0.75" stop-color="#ffc500"/><stop offset="0.8125" stop-color="#ffed00"/><stop offset="0.875" stop-color="#f3f600"/><stop offset="0.9375" stop-color="#eaf700"/><stop offset="1" stop-color="#92f700"/></linearGradient>
<linearGradient id="r78" gradientUnits="userSpaceOnUse" x1="100.5" y1="0" x2="900.5" y2="0"><stop offset="0" stop-color="#a5ff00"/><stop offset="0.0625" stop-color="#bdff00"/><stop offset="0.125" stop-color="#d0ff00"/><stop offset="0.1875" stop-color="#e4ff00"/><stop offset="0.25" stop-color="#f6ff00"/><stop offset="0.3125" stop-color="#fff500"/><stop offset="0.375" stop-color="#ffe900"/><stop offset="0.4375" stop-color="#ffd900"/><stop offset="0.5" stop-color="#ffc900"/><stop offset="0.5625" stop-color="#ffb600"/><stop offset="0.625" stop-color="#febd00"/><stop offset="0.6875" stop-color="#fbc300"/><stop offset="0.75" stop-color="#f2d200"/><stop offset="0.8125" stop-color="#eef600"/><stop offset="0.875" stop-color="#d9ff01"/><stop offset="0.9375" stop-color="#d0ff0d"/><stop offset="1" stop-color="#7ae619"/></linearGradient>
<linearGradient id="r79" gradientUnits="userSpaceOnUse" x1="100.5" y1="0" x2="900.5" y2="0"><stop offset="0" stop-color="#a5ff00"/><stop offset="0.0625" stop-color="#beff00"/><stop offset="0.125" stop-color="#d0ff00"/><stop offset="0.1875" stop-color="#e3ff00"/><stop offset="0.25" stop-color="#f6ff00"/><stop offset="0.3125" stop-color="#fff600"/><stop offset="0.375" stop-color="#ffeb00"/><stop offset="0.4375" stop-color="#ffdd00"/><stop offset="0.5" stop-color="#ffd000"/><stop offset="0.5625" stop-color="#ffc400"/><stop offset="0.625" stop-color="#fdcb00"/><stop offset="0.6875" stop-color="#f3d000"/><stop offset="0.75" stop-color="#d7dc00"/><stop offset="0.8125" stop-color="#cbf800"/><stop offset="0.875" stop-color="#a9ff04"/><stop offset="0.9375" stop-color="#a2ff26"/><stop offset="1" stop-color="#62b24d"/></linearGradient>
<linearGradient id="r80" gradientUnits="userSpaceOnUse" x1="100.5" y1="0" x2="900.5" y2="0"><stop offset="0" stop-color="#a6ff00"/><stop offset="0.0625" stop-color="#bfff00"/><stop offset="0.125" stop-color="#d0ff00"/><stop offset="0.1875" stop-color="#e2ff00"/><stop offset="0.25" stop-color="#f6ff00"/><stop offset="0.3125" stop-color="#fff700"/><stop offset="0.375" stop-color="#ffed00"/><stop offset="0.4375" stop-color="#ffe100"/><stop offset="0.5" stop-color="#ffd700"/><stop offset="0.5625" stop-color="#ffd200"/><stop offset="0.625" stop-color="#fcda00"/><stop offset="0.6875" stop-color="#ebdd00"/><stop offset="0.75" stop-color="#bce600"/><stop offset="0.8125" stop-color="#a8fa00"/><stop offset="0.875" stop-color="#79ff07"/><stop offset="0.9375" stop-color="#74ff40"/><stop offset="1" stop-color="#4a8080"/></linearGradient>
<linearGradient id="r81" gradientUnits="userSpaceOnUse" x1="100.5" y1="0" x2="900.5" y2="0"><stop offset="0" stop-color="#a7ff00"/><stop offset="0.0625" stop-color="#c1ff00"/><stop offset="0.125" stop-color="#d0ff00"/><stop offset="0.1875" stop-color="#e2ff00"/><stop offset="0.25" stop-color="#f5ff00"/><stop offset="0.3125" stop-color="#fff700"/><stop offset="0.375" stop-color="#ffef00"/><stop offset="0.4375" stop-color="#ffe500"/><stop offset="0.5" stop-color="#ffdd00"/><stop offset="0.5625" stop-color="#ffe000"/><stop offset="0.625" stop-color="#fae900"/><stop offset="0.6875" stop-color="#e3eb00"/><stop offset="0.75" stop-color="#a1f000"/><stop offset="0.8125" stop-color="#85fc00"/><stop offset="0.875" stop-color="#48ff09"/><stop offset="0.9375" stop-color="#45ff59"/><stop offset="1" stop-color="#324db2"/></linearGradient>
<linearGradient id="r82" gradientUnits="userSpaceOnUse" x1="100.5" y1="0" x2="900.5" y2="0"><stop offset="0" stop-color="#a7ff00"/><stop offset="0.0625" stop-color="#c2ff00"/><stop offset="0.125" stop-color="#d0ff00"/><stop offset="0.1875" stop-color="#e1ff00"/><stop offset="0.25" stop-color="#f5ff00"/><stop offset="0.3125" stop-color="#fff800"/><stop offset="0.375" stop-color="#fff100"/><stop offset="0.4375" stop-color="#ffe900"/><stop offset="0.5" stop-color="#ffe400"/><stop offset="0.5625" stop-color="#ffee00"/><stop offset="0.625" stop-color="#f9f800"/><stop offset="0.6875" stop-color="#dbf800"/><stop offset="0.75" stop-color="#86fa00"/><stop offset="0.8125" stop-color="#62fe00"/><stop offset="0.875" stop-color="#18ff0c"/><stop offset="0.9375" stop-color="#17ff73"/><stop offset="1" stop-color="#1919e6"/></linearGradient></defs>
<rect x="60" y="119.95" width="880" height="10.5" fill="url(#r0)"/>
<rect x="60" y="129.95" width="880" height="10.5" fill="url(#r0)"/>
<rect x="60" y="139.95" width="880" height="10.5" fill="url(#r0)"/>
<rect x="60" y="149.95" width="880" height="10.5" fill="url(#r0)"/>
<rect x="60" y="159.95" width="880" height="10.5" fill="url(#r4)"/>
<rect x="60" y="169.95" width="880" height="10.5" fill="url(#r5)"/>
<rect x="60" y="179.95" width="880" height="10.5" fill="url(#r6)"/>
<rect x="60" y="189.95" width="880" height="10.5" fill="url(#r7)"/>
<rect x="60" y="199.95" width="880" height="10.5" fill="url(#r8)"/>
<rect x="60" y="209.95" width="880" height="10.5" fill="url(#r9)"/>
<rect x="60" y="219.95" width="880" height="10.5" fill="url(#r10)"/>
<rect x="60" y="229.95" width="880" height="10.5" fill="url(#r11)"/>
<rect x="60" y="239.95" width="880" height="10.5" fill="url(#r12)"/>
<rect x="60" y="249.95" width="880" height="10.5" fill="url(#r13)"/>
<rect x="60" y="259.95" width="880" height="10.5" fill="url(#r14)"/>
<rect x="60" y="269.95" width="880" height="10.5" fill="url(#r15)"/>
<rect x="60" y="279.95" width="880" height="10.5" fill="url(#r16)"/>
<rect x="60" y="289.95" width="880" height="10.5" fill="url(#r17)"/>
<rect x="60" y="299.95" width="880" height="10.5" fill="url(#r18)"/>
<rect x="60" y="309.95" width="880" height="10.5" fill="url(#r19)"/>
<rect x="60" y="319.95" width="880" height="10.5" fill="url(#r20)"/>
<rect x="60" y="329.95" width="880" height="10.5" fill="url(#r21)"/>
<rect x="60" y="339.95" width="880" height="10.5" fill="url(#r22)"/>
<rect x="60" y="349.95" width="880" height="10.5" fill="url(#r23)"/>
<rect x="60" y="359.95" width="880" height="10.5" fill="url(#r24)"/>
<rect x="60" y="369.95" width="880" height="10.5" fill="url(#r25)"/>
<rect x="60" y="379.95" width="880" height="10.5" fill="url(#r26)"/>
<rect x="60" y="389.95" width="880" height="10.5" fill="url(#r27)"/>
<rect x="60" y="399.95" width="880" height="10.5" fill="url(#r28)"/>
<rect x="60" y="409.95" width="880" height="10.5" fill="url(#r29)"/>
<rect x="60" y="419.95" width="880" height="10.5" fill="url(#r30)"/>
<rect x="60" y="429.95" width="880" height="10.5" fill="url(#r31)"/>
<rect x="60" y="439.95" width="880" height="10.5" fill="url(#r32)"/>
<rect x="60" y="449.95" width="880" height="10.5" fill="url(#r33)"/>
<rect x="60" y="459.95" width="880" height="10.5" fill="url(#r34)"/>
<rect x="60" y="469.95" width="880" height="10.5" fill="url(#r35)"/>
<rect x="60" y="479.95" width="880" height="10.5" fill="url(#r36)"/>
<rect x="60" y="489.95" width="880" height="10.5" fill="url(#r37)"/>
<rect x="60" y="499.95" width="880" height="10.5" fill="url(#r38)"/>
<rect x="60" y="509.95" width="880" height="10.5" fill="url(#r39)"/>
<rect x="60" y="519.95" width="880" height="10.5" fill="url(#r40)"/>
<rect x="60" y="529.95" width="880" height="10.5" fill="url(#r41)"/>
<rect x="60" y="539.95" width="880" height="10.5" fill="url(#r42)"/>
<rect x="60" y="549.95" width="880" height="10.5" fill="url(#r43)"/>
<rect x="60" y="559.95" width="880" height="10.5" fill="url(#r44)"/>
<rect x="60" y="569.95" width="880" height="10.5" fill="url(#r45)"/>
<rect x="60" y="579.95" width="880" height="10.5" fill="url(#r46)"/>
<rect x="60" y="589.95" width="880" height="10.5" fill="url(#r47)"/>
<rect x="60" y="599.95" width="880" height="10.5" fill="url(#r48)"/>
<rect x="60" y="609.95" width="880" height="10.5" fill="url(#r49)"/>
<rect x="60" y="619.95" width="880" height="10.5" fill="url(#r50)"/>
<rect x="60" y="629.95" width="880" height="10.5" fill="url(#r51)"/>
<rect x="60" y="639.95" width="880" height="10.5" fill="url(#r52)"/>
<rect x="60" y="649.95" width="880" height="10.5" fill="url(#r53)"/>
<rect x="60" y="659.95" width="880" height="10.5" fill="url(#r54)"/>
<rect x="60" y="669.95" width="880" height="10.5" fill="url(#r55)"/>
<rect x="60" y="679.95" width="880" height="10.5" fill="url(#r56)"/>
<rect x="60" y="689.95" width="880" height="10.5" fill="url(#r57)"/>
<rect x="60" y="699.95" width="880" height="10.5" fill="url(#r58)"/>
<rect x="60" y="709.95" width="880" height="10.5" fill="url(#r59)"/>
<rect x="60" y="719.95" width="880" height="10.5" fill="url(#r60)"/>
<rect x="60" y="729.95" width="880" height="10.5" fill="url(#r61)"/>
<rect x="60" y="739.95" width="880" height="10.5" fill="url(#r62)"/>
<rect x="60" y="749.95" width="880" height="10.5" fill="url(#r63)"/>
<rect x="60" y="759.95" width="880" height="10.5" fill="url(#r64)"/>
<rect x="60" y="769.95" width="880" height="10.5" fill="url(#r65)"/>
<rect x="60" y="779.95" width="880" height="10.5" fill="url(#r66)"/>
<rect x="60" y="789.95" width="880" height="10.5" fill="url(#r67)"/>
<rect x="60" y="799.95" width="880" height="10.5" fill="url(#r68)"/>
<rect x="60" y="809.95" width="880" height="10.5" fill="url(#r69)"/>
<rect x="60" y="819.95" width="880" height="10.5" fill="url(#r70)"/>
<rect x="60" y="829.95" width="880" height="10.5" fill="url(#r71)"/>
<rect x="60" y="839.95" width="880" height="10.5" fill="url(#r72)"/>
<rect x="60" y="849.95" width="880" height="10.5" fill="url(#r73)"/>
<rect x="60" y="859.95" width="880" height="10.5" fill="url(#r74)"/>
<rect x="60" y="869.95" width="880" height="10.5" fill="url(#r75)"/>
<rect x="60" y="879.95" width="880" height="10.5" fill="url(#r76)"/>
<rect x="60" y="889.95" width="880" height="10.5" fill="url(#r77)"/>
<rect x="60" y="899.95" width="880" height="10.5" fill="url(#r78)"/>
<rect x="60" y="909.95" width="880" height="10.5" fill="url(#r79)"/>
<rect x="60" y="919.95" width="880" height="10.5" fill="url(#r80)"/>
<rect x="60" y="929.95" width="880" height="10.5" fill="url(#r81)"/>
<rect x="60" y="939.95" width="880" height="10.5" fill="url(#r82)"/>
<rect x="60" y="949.95" width="880" height="10.5" fill="url(#r82)"/>
<rect x="60" y="959.95" width="880" height="10.5" fill="url(#r82)"/>
<rect x="60" y="969.95" width="880" height="10.5" fill="url(#r82)"/>
</g>
<g stroke="#c4c4c4" stroke-opacity="0.58" stroke-width="2" fill="none"><path d="M140.4 150V950M640.4 150V950M100 650.3H900"/></g>
<g fill="#000" stroke="none">
<path d="M296.7 355.2L312.5 350.8L297.3 344.8Z"/>
<path d="M497.9 355.1L513.5 350.2L498.1 344.7Z"/>
<path d="M699.6 355.8L712.0 345.0L695.6 346.2Z"/>
<path d="M295.4 553.8L311.4 552.7L298.2 543.6Z"/>
<path d="M495.3 553.8L510.9 552.7L498.1 543.6Z"/>
<path d="M703.3 554.5L709.8 540.2L695.7 547.1Z"/>
<path d="M295.0 752.9L310.5 754.5L299.4 743.5Z"/>
<path d="M497.7 754.7L513.2 752.0L499.5 744.3Z"/>
<path d="M709.0 751.6L719.1 739.1L703.4 742.8Z"/>
<path d="M504.8 954.1L514.0 940.0L498.2 945.9Z"/>
<path d="M714.0 943.4L719.5 929.1L706.0 936.6Z"/>
<path d="M96.3 354.3L111.8 352.6L98.7 344.1Z"/>
<path d="M97.7 556.6L110.1 548.4L95.3 546.4Z"/>
<path d="M97.7 755.8L108.5 745.0L93.3 746.2Z"/>
<path d="M300.7 957.6L306.3 941.0L292.3 951.4Z"/>
<path d="M100 150.5L110.9 151.2L112.9 154.5L100 154.4Z"/>
</g><g stroke="#000" stroke-width="1.5" fill="none">
<path d="M700.9 749.4L706.2 747.2"/>
<path d="M701.4 950.5L710 940"/>
</g>
<circle cx="437.4" cy="710.2" r="6.35" fill="#fff" stroke="#000" stroke-width="2.3"/>
</g>
<rect x="100.5" y="150.2" width="800" height="799.8" fill="none" stroke="#000" stroke-width="2.8"/>
<path d="M140 142.4V149.5M140 950.5V957.4M190 146.3V149.5M190 950.5V954.2M240 146.3V149.5M240 950.5V954.2M290 146.3V149.5M290 950.5V954.2M340 146.3V149.5M340 950.5V954.2M390 146.3V149.5M390 950.5V954.2M440 146.3V149.5M440 950.5V954.2M490 146.3V149.5M490 950.5V954.2M540 146.3V149.5M540 950.5V954.2M590 146.3V149.5M590 950.5V954.2M640 142.4V149.5M640 950.5V957.4M690 146.3V149.5M690 950.5V954.2M740 146.3V149.5M740 950.5V954.2M790 146.3V149.5M790 950.5V954.2M840 146.3V149.5M840 950.5V954.2M890 146.3V149.5M890 950.5V954.2" stroke="#111" stroke-width="1.75" fill="none"/>
<path d="M92.2 150H100M901 150H908.6M96.2 200H100M901 200H904.6M96.2 250H100M901 250H904.6M96.2 300H100M901 300H904.6M96.2 350H100M901 350H904.6M96.2 400H100M901 400H904.6M96.2 450H100M901 450H904.6M96.2 500H100M901 500H904.6M96.2 550H100M901 550H904.6M96.2 600H100M901 600H904.6M92.2 650H100M901 650H908.6M96.2 700H100M901 700H904.6M96.2 750H100M901 750H904.6M96.2 800H100M901 800H904.6M96.2 850H100M901 850H904.6M96.2 900H100M901 900H904.6M96.2 950H100M901 950H904.6" stroke="#111" stroke-width="1.75" fill="none"/>
<g transform="translate(112.5 134.8) scale(1.0083 1)"><text class="n" font-size="11.08">−89°05'15"</text></g>
<g transform="translate(612.6 134.8) scale(1.0102 1)"><text class="n" font-size="11.08">−89°04'30"</text></g>
<g transform="translate(112.5 972.8) scale(1.0083 1)"><text class="n" font-size="11.08">−89°05'15"</text></g>
<g transform="translate(612.6 972.8) scale(1.0102 1)"><text class="n" font-size="11.08">−89°04'30"</text></g>
<g transform="translate(37.5 153.7) scale(0.9995 1)"><text class="n" font-size="11.08">30°16'30"</text></g>
<g transform="translate(37.5 653.7) scale(0.9995 1)"><text class="n" font-size="11.08">30°15'45"</text></g>
<g transform="translate(914.4 153.7) scale(1.0038 1)"><text class="n" font-size="11.08">30°16'30"</text></g>
<g transform="translate(914.4 653.7) scale(1.0038 1)"><text class="n" font-size="11.08">30°15'45"</text></g>
<g transform="translate(370.54 29.8) scale(1.0335 1)"><text class="b" font-size="18.76">Mississippi Sound, Gulfport</text></g>
<g transform="translate(370.54 1043.8) scale(1.0335 1)"><text class="b" font-size="18.76">Mississippi Sound, Gulfport</text></g>
<g transform="translate(281.13 114.8) scale(1.016 1)"><text class="s" font-size="17.81">DEPTH at bottom FORECAST valid Jul 10 2022 09:00Z</text></g>
<g transform="translate(810.57 109.7) scale(1.0099 1)"><text class="s" font-size="13.96">Gulf of Mexico</text></g>
<g transform="translate(130 49.5) scale(1.0387 1)"><text class="b" font-size="13.38">USM Instrumentation</text></g>
<circle cx="120.25" cy="45.15" r="6.15" fill="#fff" stroke="#000" stroke-width="2.1"/>
<rect x="582.3" y="40" width="312.8" height="39.8" fill="#fff" stroke="#000" stroke-width="2"/>
<path d="M803.8 50.45H879" stroke="#2a2a2a" stroke-width="0.9" fill="none"/>
<path d="M878.2 45.1L892.9 50.2L878.2 55.2Z" fill="#000"/>
<path d="M722.7 60.45H879" stroke="#2a2a2a" stroke-width="0.9" fill="none"/>
<path d="M878.2 55.1L892.9 60.2L878.2 65.2Z" fill="#000"/>
<path d="M641.3 70.45H879" stroke="#2a2a2a" stroke-width="0.9" fill="none"/>
<path d="M878.2 65.1L892.9 70.2L878.2 75.2Z" fill="#000"/>
<g transform="translate(585.66 54.8) scale(1.0419 1)"><text class="b" font-size="12.14">0.25 kts</text></g>
<g transform="translate(585.66 64.7) scale(1.0419 1)"><text class="b" font-size="12.14">0.50 kts</text></g>
<g transform="translate(585.66 74.7) scale(1.0419 1)"><text class="b" font-size="12.14">0.75 kts</text></g>
<g transform="translate(582 93.8) scale(1.0356 1)"><text class="b" font-size="10.79">CURRENTS Vectors</text></g>
<rect x="980.5" y="400.1" width="19.95" height="300" fill="url(#cb)"/>
<rect x="980.5" y="400.1" width="19.95" height="300" fill="none" stroke="#000" stroke-width="2.7" stroke-linejoin="round"/>
<path d="M979.3 400.2H1000.2M979.3 430.2H1000.2M979.3 460.2H1000.2M979.3 490.2H1000.2M979.3 520.2H1000.2M979.3 550.2H1000.2M979.3 580.2H1000.2M979.3 610.2H1000.2M979.3 640.2H1000.2M979.3 670.2H1000.2M979.3 700.2H1000.2" stroke="#c6c6c0" stroke-width="1.1" fill="none"/>
<g transform="translate(1015.15 403.9) scale(0.985 1)"><text class="n" font-size="11">19.0</text></g>
<g transform="translate(1015.15 433.9) scale(0.985 1)"><text class="n" font-size="11">17.1</text></g>
<g transform="translate(1015.15 463.9) scale(0.985 1)"><text class="n" font-size="11">15.2</text></g>
<g transform="translate(1015.15 493.9) scale(0.985 1)"><text class="n" font-size="11">13.3</text></g>
<g transform="translate(1015.15 523.9) scale(0.985 1)"><text class="n" font-size="11">11.4</text></g>
<g transform="translate(1015.15 553.9) scale(0.985 1)"><text class="n" font-size="11">9.5</text></g>
<g transform="translate(1015.15 583.9) scale(0.985 1)"><text class="n" font-size="11">7.6</text></g>
<g transform="translate(1015.15 613.9) scale(0.985 1)"><text class="n" font-size="11">5.7</text></g>
<g transform="translate(1015.15 643.9) scale(0.985 1)"><text class="n" font-size="11">3.8</text></g>
<g transform="translate(1015.15 673.9) scale(0.985 1)"><text class="n" font-size="11">1.9</text></g>
<g transform="translate(1015.15 703.9) scale(0.985 1)"><text class="n" font-size="11">0.0</text></g>
<path d="M1000.6 400.1H1008.6M1000.6 430.1H1008.6M1000.6 460.1H1008.6M1000.6 490.1H1008.6M1000.6 520.1H1008.6M1000.6 550.1H1008.6M1000.6 580.1H1008.6M1000.6 610.1H1008.6M1000.6 640.1H1008.6M1000.6 670.1H1008.6M1000.6 700.1H1008.6" stroke="#333" stroke-width="1.7" fill="none"/>
<g transform="translate(1055 580.6) rotate(-90) scale(1.0114 1)"><text class="b" font-size="13.66">Depth (ft)</text></g>
</svg></body></html>
